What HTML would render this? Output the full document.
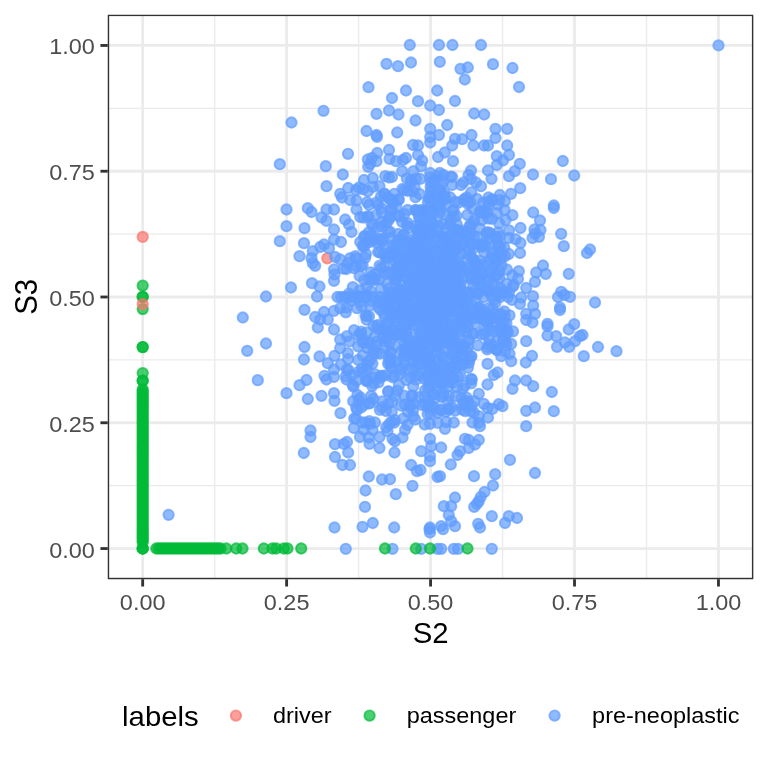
<!DOCTYPE html><html><head><meta charset="utf-8"><title>plot</title><style>html,body{margin:0;padding:0;background:#fff}svg{display:block;will-change:transform;opacity:0.999}text{font-family:"Liberation Sans",sans-serif}</style></head><body>
<svg width="768" height="768" viewBox="0 0 768 768">
<rect width="768" height="768" fill="#fff"/>
<defs><clipPath id="pc"><rect x="107.75" y="14.67" width="645.58" height="564.53"/></clipPath></defs>
<g clip-path="url(#pc)">
<g stroke="#EBEBEB" stroke-width="1.42">
<line x1="107.75" x2="753.33" y1="485.66" y2="485.66"/>
<line x1="214.64" x2="214.64" y1="14.67" y2="579.20"/>
<line x1="107.75" x2="753.33" y1="359.89" y2="359.89"/>
<line x1="358.59" x2="358.59" y1="14.67" y2="579.20"/>
<line x1="107.75" x2="753.33" y1="234.11" y2="234.11"/>
<line x1="502.54" x2="502.54" y1="14.67" y2="579.20"/>
<line x1="107.75" x2="753.33" y1="108.34" y2="108.34"/>
<line x1="646.49" x2="646.49" y1="14.67" y2="579.20"/>
</g>
<g stroke="#EBEBEB" stroke-width="2.845">
<line x1="107.75" x2="753.33" y1="548.55" y2="548.55"/>
<line x1="142.67" x2="142.67" y1="14.67" y2="579.20"/>
<line x1="107.75" x2="753.33" y1="422.77" y2="422.77"/>
<line x1="286.62" x2="286.62" y1="14.67" y2="579.20"/>
<line x1="107.75" x2="753.33" y1="297.00" y2="297.00"/>
<line x1="430.57" x2="430.57" y1="14.67" y2="579.20"/>
<line x1="107.75" x2="753.33" y1="171.22" y2="171.22"/>
<line x1="574.52" x2="574.52" y1="14.67" y2="579.20"/>
<line x1="107.75" x2="753.33" y1="45.45" y2="45.45"/>
<line x1="718.47" x2="718.47" y1="14.67" y2="579.20"/>
</g>
<g fill="#F8766D" stroke="#F8766D" fill-opacity="0.70" stroke-opacity="0.70" stroke-width="1.90">
<circle cx="327.3" cy="258.3" r="5.20"/>
</g>
<g fill="#619CFF" stroke="#619CFF" fill-opacity="0.70" stroke-opacity="0.70" stroke-width="1.90">
<circle cx="448.8" cy="395.9" r="5.20"/>
<circle cx="389.1" cy="309.9" r="5.20"/>
<circle cx="500.1" cy="323.5" r="5.20"/>
<circle cx="447.4" cy="311.6" r="5.20"/>
<circle cx="437.6" cy="321.2" r="5.20"/>
<circle cx="451.4" cy="366.3" r="5.20"/>
<circle cx="448.1" cy="341.7" r="5.20"/>
<circle cx="426.5" cy="231.1" r="5.20"/>
<circle cx="452.9" cy="272.3" r="5.20"/>
<circle cx="420.5" cy="353.5" r="5.20"/>
<circle cx="413.1" cy="324.8" r="5.20"/>
<circle cx="369.4" cy="342.3" r="5.20"/>
<circle cx="401.5" cy="291.4" r="5.20"/>
<circle cx="420.1" cy="211.2" r="5.20"/>
<circle cx="399.6" cy="262.0" r="5.20"/>
<circle cx="468.3" cy="401.3" r="5.20"/>
<circle cx="446.6" cy="280.1" r="5.20"/>
<circle cx="445.4" cy="255.3" r="5.20"/>
<circle cx="498.1" cy="294.8" r="5.20"/>
<circle cx="464.6" cy="385.8" r="5.20"/>
<circle cx="467.4" cy="214.8" r="5.20"/>
<circle cx="418.8" cy="266.8" r="5.20"/>
<circle cx="484.2" cy="311.3" r="5.20"/>
<circle cx="481.4" cy="313.4" r="5.20"/>
<circle cx="408.2" cy="350.3" r="5.20"/>
<circle cx="373.5" cy="352.6" r="5.20"/>
<circle cx="441.2" cy="277.1" r="5.20"/>
<circle cx="434.1" cy="359.1" r="5.20"/>
<circle cx="434.2" cy="393.9" r="5.20"/>
<circle cx="474.7" cy="261.8" r="5.20"/>
<circle cx="459.0" cy="282.2" r="5.20"/>
<circle cx="489.2" cy="307.8" r="5.20"/>
<circle cx="439.9" cy="212.6" r="5.20"/>
<circle cx="446.5" cy="203.8" r="5.20"/>
<circle cx="416.1" cy="225.5" r="5.20"/>
<circle cx="498.7" cy="247.1" r="5.20"/>
<circle cx="487.2" cy="349.3" r="5.20"/>
<circle cx="423.4" cy="280.4" r="5.20"/>
<circle cx="449.0" cy="276.0" r="5.20"/>
<circle cx="452.5" cy="300.7" r="5.20"/>
<circle cx="420.5" cy="359.0" r="5.20"/>
<circle cx="444.5" cy="323.6" r="5.20"/>
<circle cx="454.9" cy="360.2" r="5.20"/>
<circle cx="423.8" cy="325.9" r="5.20"/>
<circle cx="452.1" cy="354.5" r="5.20"/>
<circle cx="349.5" cy="341.4" r="5.20"/>
<circle cx="442.8" cy="262.2" r="5.20"/>
<circle cx="435.6" cy="282.8" r="5.20"/>
<circle cx="414.3" cy="257.1" r="5.20"/>
<circle cx="414.3" cy="251.1" r="5.20"/>
<circle cx="419.3" cy="217.6" r="5.20"/>
<circle cx="457.1" cy="339.2" r="5.20"/>
<circle cx="459.9" cy="317.7" r="5.20"/>
<circle cx="393.5" cy="256.2" r="5.20"/>
<circle cx="446.5" cy="302.5" r="5.20"/>
<circle cx="406.6" cy="251.0" r="5.20"/>
<circle cx="452.2" cy="231.8" r="5.20"/>
<circle cx="473.4" cy="248.5" r="5.20"/>
<circle cx="401.5" cy="309.0" r="5.20"/>
<circle cx="417.1" cy="355.8" r="5.20"/>
<circle cx="502.7" cy="341.1" r="5.20"/>
<circle cx="443.5" cy="359.1" r="5.20"/>
<circle cx="469.1" cy="243.1" r="5.20"/>
<circle cx="391.0" cy="237.8" r="5.20"/>
<circle cx="463.3" cy="347.0" r="5.20"/>
<circle cx="407.8" cy="323.4" r="5.20"/>
<circle cx="406.2" cy="297.0" r="5.20"/>
<circle cx="466.6" cy="197.5" r="5.20"/>
<circle cx="415.9" cy="379.7" r="5.20"/>
<circle cx="487.8" cy="347.2" r="5.20"/>
<circle cx="429.1" cy="198.5" r="5.20"/>
<circle cx="436.0" cy="325.1" r="5.20"/>
<circle cx="416.9" cy="344.2" r="5.20"/>
<circle cx="378.4" cy="329.3" r="5.20"/>
<circle cx="427.9" cy="379.8" r="5.20"/>
<circle cx="407.1" cy="258.1" r="5.20"/>
<circle cx="391.9" cy="210.7" r="5.20"/>
<circle cx="487.5" cy="232.2" r="5.20"/>
<circle cx="482.9" cy="245.4" r="5.20"/>
<circle cx="453.0" cy="342.1" r="5.20"/>
<circle cx="383.5" cy="330.4" r="5.20"/>
<circle cx="468.0" cy="326.9" r="5.20"/>
<circle cx="449.3" cy="310.0" r="5.20"/>
<circle cx="451.7" cy="325.0" r="5.20"/>
<circle cx="406.8" cy="225.5" r="5.20"/>
<circle cx="366.6" cy="319.7" r="5.20"/>
<circle cx="452.9" cy="289.7" r="5.20"/>
<circle cx="459.3" cy="365.6" r="5.20"/>
<circle cx="451.6" cy="378.7" r="5.20"/>
<circle cx="413.5" cy="274.4" r="5.20"/>
<circle cx="428.0" cy="374.9" r="5.20"/>
<circle cx="441.6" cy="269.6" r="5.20"/>
<circle cx="421.2" cy="339.7" r="5.20"/>
<circle cx="462.8" cy="388.6" r="5.20"/>
<circle cx="432.2" cy="245.7" r="5.20"/>
<circle cx="480.8" cy="212.5" r="5.20"/>
<circle cx="455.0" cy="324.6" r="5.20"/>
<circle cx="422.0" cy="298.5" r="5.20"/>
<circle cx="397.9" cy="290.5" r="5.20"/>
<circle cx="485.5" cy="321.1" r="5.20"/>
<circle cx="376.7" cy="341.5" r="5.20"/>
<circle cx="479.3" cy="268.1" r="5.20"/>
<circle cx="421.8" cy="227.0" r="5.20"/>
<circle cx="396.9" cy="334.6" r="5.20"/>
<circle cx="410.5" cy="405.2" r="5.20"/>
<circle cx="474.9" cy="290.7" r="5.20"/>
<circle cx="396.9" cy="278.7" r="5.20"/>
<circle cx="426.6" cy="285.6" r="5.20"/>
<circle cx="430.3" cy="339.1" r="5.20"/>
<circle cx="464.4" cy="240.7" r="5.20"/>
<circle cx="506.9" cy="269.6" r="5.20"/>
<circle cx="466.7" cy="231.1" r="5.20"/>
<circle cx="384.9" cy="273.5" r="5.20"/>
<circle cx="480.9" cy="314.3" r="5.20"/>
<circle cx="387.0" cy="339.1" r="5.20"/>
<circle cx="395.1" cy="269.6" r="5.20"/>
<circle cx="419.7" cy="242.1" r="5.20"/>
<circle cx="459.2" cy="351.9" r="5.20"/>
<circle cx="374.8" cy="374.1" r="5.20"/>
<circle cx="392.3" cy="292.9" r="5.20"/>
<circle cx="460.7" cy="284.3" r="5.20"/>
<circle cx="430.6" cy="302.5" r="5.20"/>
<circle cx="421.7" cy="210.0" r="5.20"/>
<circle cx="462.1" cy="295.2" r="5.20"/>
<circle cx="454.0" cy="216.7" r="5.20"/>
<circle cx="419.0" cy="263.4" r="5.20"/>
<circle cx="357.1" cy="410.0" r="5.20"/>
<circle cx="355.4" cy="256.2" r="5.20"/>
<circle cx="428.6" cy="256.1" r="5.20"/>
<circle cx="443.4" cy="395.4" r="5.20"/>
<circle cx="473.0" cy="269.3" r="5.20"/>
<circle cx="438.2" cy="251.0" r="5.20"/>
<circle cx="476.8" cy="198.9" r="5.20"/>
<circle cx="387.4" cy="271.9" r="5.20"/>
<circle cx="430.8" cy="363.5" r="5.20"/>
<circle cx="419.6" cy="225.3" r="5.20"/>
<circle cx="424.6" cy="311.8" r="5.20"/>
<circle cx="411.2" cy="292.5" r="5.20"/>
<circle cx="497.0" cy="349.4" r="5.20"/>
<circle cx="381.0" cy="196.3" r="5.20"/>
<circle cx="423.7" cy="316.7" r="5.20"/>
<circle cx="371.4" cy="235.5" r="5.20"/>
<circle cx="365.6" cy="315.7" r="5.20"/>
<circle cx="478.5" cy="273.4" r="5.20"/>
<circle cx="372.9" cy="187.0" r="5.20"/>
<circle cx="451.7" cy="406.9" r="5.20"/>
<circle cx="419.5" cy="234.6" r="5.20"/>
<circle cx="369.9" cy="305.4" r="5.20"/>
<circle cx="441.6" cy="397.0" r="5.20"/>
<circle cx="406.4" cy="294.3" r="5.20"/>
<circle cx="443.7" cy="223.9" r="5.20"/>
<circle cx="345.7" cy="376.4" r="5.20"/>
<circle cx="451.6" cy="279.8" r="5.20"/>
<circle cx="410.2" cy="345.8" r="5.20"/>
<circle cx="426.8" cy="319.4" r="5.20"/>
<circle cx="424.3" cy="295.9" r="5.20"/>
<circle cx="436.8" cy="352.3" r="5.20"/>
<circle cx="443.0" cy="182.1" r="5.20"/>
<circle cx="424.0" cy="297.4" r="5.20"/>
<circle cx="436.5" cy="277.5" r="5.20"/>
<circle cx="448.0" cy="297.1" r="5.20"/>
<circle cx="498.1" cy="274.7" r="5.20"/>
<circle cx="451.1" cy="330.2" r="5.20"/>
<circle cx="431.3" cy="233.8" r="5.20"/>
<circle cx="348.1" cy="359.1" r="5.20"/>
<circle cx="473.2" cy="209.1" r="5.20"/>
<circle cx="443.2" cy="240.6" r="5.20"/>
<circle cx="428.8" cy="276.4" r="5.20"/>
<circle cx="424.0" cy="211.7" r="5.20"/>
<circle cx="443.1" cy="237.9" r="5.20"/>
<circle cx="492.8" cy="268.3" r="5.20"/>
<circle cx="479.7" cy="245.0" r="5.20"/>
<circle cx="378.1" cy="324.9" r="5.20"/>
<circle cx="373.0" cy="226.4" r="5.20"/>
<circle cx="470.6" cy="279.1" r="5.20"/>
<circle cx="494.4" cy="299.5" r="5.20"/>
<circle cx="425.8" cy="280.3" r="5.20"/>
<circle cx="346.4" cy="269.0" r="5.20"/>
<circle cx="467.8" cy="304.8" r="5.20"/>
<circle cx="424.8" cy="379.2" r="5.20"/>
<circle cx="384.9" cy="194.0" r="5.20"/>
<circle cx="452.2" cy="334.0" r="5.20"/>
<circle cx="471.7" cy="379.7" r="5.20"/>
<circle cx="408.3" cy="315.8" r="5.20"/>
<circle cx="402.9" cy="270.9" r="5.20"/>
<circle cx="425.8" cy="273.9" r="5.20"/>
<circle cx="497.8" cy="204.8" r="5.20"/>
<circle cx="389.9" cy="216.4" r="5.20"/>
<circle cx="446.1" cy="227.8" r="5.20"/>
<circle cx="467.7" cy="347.6" r="5.20"/>
<circle cx="376.6" cy="353.7" r="5.20"/>
<circle cx="435.0" cy="285.5" r="5.20"/>
<circle cx="397.4" cy="390.6" r="5.20"/>
<circle cx="443.1" cy="392.3" r="5.20"/>
<circle cx="416.1" cy="255.5" r="5.20"/>
<circle cx="460.4" cy="331.3" r="5.20"/>
<circle cx="424.8" cy="287.7" r="5.20"/>
<circle cx="425.2" cy="299.0" r="5.20"/>
<circle cx="426.4" cy="300.8" r="5.20"/>
<circle cx="392.0" cy="368.1" r="5.20"/>
<circle cx="496.8" cy="213.1" r="5.20"/>
<circle cx="440.6" cy="382.5" r="5.20"/>
<circle cx="410.4" cy="377.4" r="5.20"/>
<circle cx="362.0" cy="368.7" r="5.20"/>
<circle cx="411.4" cy="181.6" r="5.20"/>
<circle cx="443.2" cy="337.0" r="5.20"/>
<circle cx="422.1" cy="316.8" r="5.20"/>
<circle cx="433.9" cy="334.0" r="5.20"/>
<circle cx="360.7" cy="333.8" r="5.20"/>
<circle cx="372.4" cy="363.6" r="5.20"/>
<circle cx="383.9" cy="313.6" r="5.20"/>
<circle cx="415.9" cy="375.9" r="5.20"/>
<circle cx="353.4" cy="386.7" r="5.20"/>
<circle cx="469.0" cy="362.7" r="5.20"/>
<circle cx="461.4" cy="398.0" r="5.20"/>
<circle cx="449.2" cy="295.1" r="5.20"/>
<circle cx="380.5" cy="309.9" r="5.20"/>
<circle cx="425.5" cy="211.2" r="5.20"/>
<circle cx="440.2" cy="409.5" r="5.20"/>
<circle cx="466.5" cy="332.5" r="5.20"/>
<circle cx="426.4" cy="293.8" r="5.20"/>
<circle cx="468.9" cy="339.9" r="5.20"/>
<circle cx="416.8" cy="291.3" r="5.20"/>
<circle cx="436.9" cy="347.1" r="5.20"/>
<circle cx="458.0" cy="246.6" r="5.20"/>
<circle cx="464.2" cy="200.3" r="5.20"/>
<circle cx="470.8" cy="356.6" r="5.20"/>
<circle cx="414.0" cy="286.3" r="5.20"/>
<circle cx="418.8" cy="215.2" r="5.20"/>
<circle cx="457.4" cy="283.7" r="5.20"/>
<circle cx="403.8" cy="314.2" r="5.20"/>
<circle cx="443.4" cy="297.8" r="5.20"/>
<circle cx="450.3" cy="286.2" r="5.20"/>
<circle cx="452.7" cy="382.7" r="5.20"/>
<circle cx="488.1" cy="201.7" r="5.20"/>
<circle cx="487.5" cy="211.9" r="5.20"/>
<circle cx="419.6" cy="194.0" r="5.20"/>
<circle cx="456.9" cy="278.0" r="5.20"/>
<circle cx="468.2" cy="235.5" r="5.20"/>
<circle cx="418.7" cy="397.2" r="5.20"/>
<circle cx="440.2" cy="267.7" r="5.20"/>
<circle cx="404.3" cy="285.2" r="5.20"/>
<circle cx="429.0" cy="271.8" r="5.20"/>
<circle cx="488.1" cy="315.4" r="5.20"/>
<circle cx="504.5" cy="209.8" r="5.20"/>
<circle cx="386.4" cy="307.0" r="5.20"/>
<circle cx="403.4" cy="258.8" r="5.20"/>
<circle cx="422.3" cy="405.1" r="5.20"/>
<circle cx="428.4" cy="305.2" r="5.20"/>
<circle cx="466.6" cy="350.5" r="5.20"/>
<circle cx="443.0" cy="303.6" r="5.20"/>
<circle cx="418.1" cy="375.0" r="5.20"/>
<circle cx="471.0" cy="314.6" r="5.20"/>
<circle cx="479.5" cy="306.9" r="5.20"/>
<circle cx="505.5" cy="335.8" r="5.20"/>
<circle cx="393.7" cy="327.0" r="5.20"/>
<circle cx="431.2" cy="366.5" r="5.20"/>
<circle cx="494.8" cy="331.1" r="5.20"/>
<circle cx="477.4" cy="280.9" r="5.20"/>
<circle cx="486.5" cy="288.8" r="5.20"/>
<circle cx="393.2" cy="200.5" r="5.20"/>
<circle cx="481.9" cy="314.2" r="5.20"/>
<circle cx="399.2" cy="274.5" r="5.20"/>
<circle cx="364.2" cy="404.7" r="5.20"/>
<circle cx="461.9" cy="296.5" r="5.20"/>
<circle cx="407.5" cy="272.8" r="5.20"/>
<circle cx="401.7" cy="271.3" r="5.20"/>
<circle cx="458.0" cy="376.8" r="5.20"/>
<circle cx="407.4" cy="222.9" r="5.20"/>
<circle cx="488.1" cy="276.4" r="5.20"/>
<circle cx="401.0" cy="329.0" r="5.20"/>
<circle cx="421.2" cy="312.9" r="5.20"/>
<circle cx="467.2" cy="258.5" r="5.20"/>
<circle cx="387.8" cy="230.8" r="5.20"/>
<circle cx="420.3" cy="252.3" r="5.20"/>
<circle cx="468.4" cy="316.0" r="5.20"/>
<circle cx="414.0" cy="238.8" r="5.20"/>
<circle cx="419.1" cy="358.9" r="5.20"/>
<circle cx="408.1" cy="251.7" r="5.20"/>
<circle cx="349.1" cy="293.6" r="5.20"/>
<circle cx="406.3" cy="333.6" r="5.20"/>
<circle cx="413.6" cy="279.6" r="5.20"/>
<circle cx="465.1" cy="411.1" r="5.20"/>
<circle cx="400.9" cy="255.9" r="5.20"/>
<circle cx="354.2" cy="418.5" r="5.20"/>
<circle cx="484.1" cy="252.0" r="5.20"/>
<circle cx="377.9" cy="227.1" r="5.20"/>
<circle cx="378.6" cy="300.9" r="5.20"/>
<circle cx="404.2" cy="190.2" r="5.20"/>
<circle cx="464.7" cy="405.1" r="5.20"/>
<circle cx="395.0" cy="320.7" r="5.20"/>
<circle cx="483.2" cy="202.7" r="5.20"/>
<circle cx="421.2" cy="266.0" r="5.20"/>
<circle cx="446.4" cy="268.3" r="5.20"/>
<circle cx="398.8" cy="215.6" r="5.20"/>
<circle cx="445.9" cy="368.4" r="5.20"/>
<circle cx="443.2" cy="274.2" r="5.20"/>
<circle cx="454.6" cy="267.0" r="5.20"/>
<circle cx="500.5" cy="331.4" r="5.20"/>
<circle cx="390.0" cy="199.2" r="5.20"/>
<circle cx="458.1" cy="310.7" r="5.20"/>
<circle cx="441.1" cy="354.5" r="5.20"/>
<circle cx="436.4" cy="345.7" r="5.20"/>
<circle cx="418.4" cy="249.1" r="5.20"/>
<circle cx="467.9" cy="203.9" r="5.20"/>
<circle cx="446.0" cy="411.9" r="5.20"/>
<circle cx="433.3" cy="279.8" r="5.20"/>
<circle cx="399.8" cy="332.6" r="5.20"/>
<circle cx="422.7" cy="240.1" r="5.20"/>
<circle cx="460.9" cy="292.2" r="5.20"/>
<circle cx="429.4" cy="270.7" r="5.20"/>
<circle cx="413.0" cy="410.3" r="5.20"/>
<circle cx="346.9" cy="336.1" r="5.20"/>
<circle cx="395.0" cy="298.1" r="5.20"/>
<circle cx="419.4" cy="289.7" r="5.20"/>
<circle cx="415.5" cy="197.2" r="5.20"/>
<circle cx="364.7" cy="343.2" r="5.20"/>
<circle cx="484.5" cy="330.5" r="5.20"/>
<circle cx="410.5" cy="349.8" r="5.20"/>
<circle cx="412.9" cy="244.0" r="5.20"/>
<circle cx="454.6" cy="260.1" r="5.20"/>
<circle cx="405.0" cy="351.0" r="5.20"/>
<circle cx="366.0" cy="254.1" r="5.20"/>
<circle cx="443.5" cy="317.4" r="5.20"/>
<circle cx="404.6" cy="343.8" r="5.20"/>
<circle cx="441.6" cy="295.3" r="5.20"/>
<circle cx="432.3" cy="225.6" r="5.20"/>
<circle cx="509.5" cy="315.3" r="5.20"/>
<circle cx="434.7" cy="290.9" r="5.20"/>
<circle cx="460.3" cy="324.3" r="5.20"/>
<circle cx="410.2" cy="316.2" r="5.20"/>
<circle cx="450.5" cy="176.6" r="5.20"/>
<circle cx="412.5" cy="191.5" r="5.20"/>
<circle cx="447.4" cy="333.0" r="5.20"/>
<circle cx="386.3" cy="325.1" r="5.20"/>
<circle cx="432.6" cy="394.6" r="5.20"/>
<circle cx="429.8" cy="330.8" r="5.20"/>
<circle cx="448.1" cy="401.8" r="5.20"/>
<circle cx="375.1" cy="274.1" r="5.20"/>
<circle cx="462.9" cy="302.2" r="5.20"/>
<circle cx="455.2" cy="294.4" r="5.20"/>
<circle cx="436.4" cy="285.8" r="5.20"/>
<circle cx="458.6" cy="230.6" r="5.20"/>
<circle cx="504.2" cy="247.5" r="5.20"/>
<circle cx="367.5" cy="348.1" r="5.20"/>
<circle cx="456.4" cy="266.5" r="5.20"/>
<circle cx="505.8" cy="342.1" r="5.20"/>
<circle cx="372.7" cy="240.7" r="5.20"/>
<circle cx="452.2" cy="261.2" r="5.20"/>
<circle cx="373.4" cy="398.8" r="5.20"/>
<circle cx="493.6" cy="253.4" r="5.20"/>
<circle cx="394.9" cy="314.1" r="5.20"/>
<circle cx="463.5" cy="299.8" r="5.20"/>
<circle cx="431.0" cy="262.9" r="5.20"/>
<circle cx="469.3" cy="359.3" r="5.20"/>
<circle cx="433.0" cy="180.9" r="5.20"/>
<circle cx="412.0" cy="287.3" r="5.20"/>
<circle cx="398.4" cy="273.0" r="5.20"/>
<circle cx="461.5" cy="244.2" r="5.20"/>
<circle cx="438.1" cy="236.3" r="5.20"/>
<circle cx="461.8" cy="357.5" r="5.20"/>
<circle cx="442.0" cy="291.0" r="5.20"/>
<circle cx="501.0" cy="323.3" r="5.20"/>
<circle cx="437.6" cy="232.0" r="5.20"/>
<circle cx="456.8" cy="360.7" r="5.20"/>
<circle cx="449.1" cy="237.1" r="5.20"/>
<circle cx="454.5" cy="302.8" r="5.20"/>
<circle cx="468.3" cy="292.8" r="5.20"/>
<circle cx="346.5" cy="307.6" r="5.20"/>
<circle cx="437.3" cy="176.0" r="5.20"/>
<circle cx="442.5" cy="357.4" r="5.20"/>
<circle cx="390.3" cy="231.9" r="5.20"/>
<circle cx="473.8" cy="236.4" r="5.20"/>
<circle cx="432.5" cy="265.7" r="5.20"/>
<circle cx="474.6" cy="317.6" r="5.20"/>
<circle cx="505.4" cy="329.5" r="5.20"/>
<circle cx="394.7" cy="330.9" r="5.20"/>
<circle cx="480.9" cy="318.9" r="5.20"/>
<circle cx="493.0" cy="257.8" r="5.20"/>
<circle cx="391.0" cy="352.7" r="5.20"/>
<circle cx="502.0" cy="333.1" r="5.20"/>
<circle cx="450.1" cy="197.3" r="5.20"/>
<circle cx="469.5" cy="249.4" r="5.20"/>
<circle cx="471.2" cy="383.4" r="5.20"/>
<circle cx="461.8" cy="309.3" r="5.20"/>
<circle cx="471.4" cy="356.2" r="5.20"/>
<circle cx="429.8" cy="364.5" r="5.20"/>
<circle cx="378.4" cy="307.3" r="5.20"/>
<circle cx="508.8" cy="254.0" r="5.20"/>
<circle cx="418.3" cy="274.8" r="5.20"/>
<circle cx="471.2" cy="378.8" r="5.20"/>
<circle cx="464.9" cy="313.7" r="5.20"/>
<circle cx="459.2" cy="270.5" r="5.20"/>
<circle cx="429.6" cy="213.5" r="5.20"/>
<circle cx="424.1" cy="227.7" r="5.20"/>
<circle cx="432.1" cy="340.4" r="5.20"/>
<circle cx="379.4" cy="279.5" r="5.20"/>
<circle cx="479.6" cy="260.9" r="5.20"/>
<circle cx="413.3" cy="416.5" r="5.20"/>
<circle cx="451.9" cy="255.4" r="5.20"/>
<circle cx="449.6" cy="306.6" r="5.20"/>
<circle cx="405.2" cy="348.4" r="5.20"/>
<circle cx="447.0" cy="288.9" r="5.20"/>
<circle cx="427.6" cy="414.0" r="5.20"/>
<circle cx="368.6" cy="242.3" r="5.20"/>
<circle cx="440.9" cy="274.3" r="5.20"/>
<circle cx="442.9" cy="236.3" r="5.20"/>
<circle cx="358.2" cy="360.0" r="5.20"/>
<circle cx="406.3" cy="380.0" r="5.20"/>
<circle cx="421.8" cy="319.5" r="5.20"/>
<circle cx="434.6" cy="328.2" r="5.20"/>
<circle cx="460.8" cy="267.2" r="5.20"/>
<circle cx="435.1" cy="270.1" r="5.20"/>
<circle cx="426.3" cy="361.4" r="5.20"/>
<circle cx="419.7" cy="263.4" r="5.20"/>
<circle cx="447.8" cy="270.1" r="5.20"/>
<circle cx="422.4" cy="273.3" r="5.20"/>
<circle cx="421.9" cy="276.9" r="5.20"/>
<circle cx="428.7" cy="227.2" r="5.20"/>
<circle cx="447.0" cy="337.8" r="5.20"/>
<circle cx="430.2" cy="299.7" r="5.20"/>
<circle cx="492.5" cy="308.7" r="5.20"/>
<circle cx="381.5" cy="208.2" r="5.20"/>
<circle cx="397.3" cy="272.5" r="5.20"/>
<circle cx="481.1" cy="281.1" r="5.20"/>
<circle cx="396.9" cy="244.2" r="5.20"/>
<circle cx="412.0" cy="347.5" r="5.20"/>
<circle cx="442.5" cy="340.3" r="5.20"/>
<circle cx="438.2" cy="412.8" r="5.20"/>
<circle cx="455.7" cy="289.8" r="5.20"/>
<circle cx="407.6" cy="347.6" r="5.20"/>
<circle cx="466.2" cy="323.9" r="5.20"/>
<circle cx="461.8" cy="253.7" r="5.20"/>
<circle cx="428.6" cy="296.6" r="5.20"/>
<circle cx="506.4" cy="323.4" r="5.20"/>
<circle cx="444.5" cy="249.5" r="5.20"/>
<circle cx="454.9" cy="328.0" r="5.20"/>
<circle cx="398.3" cy="272.7" r="5.20"/>
<circle cx="444.8" cy="324.2" r="5.20"/>
<circle cx="422.4" cy="264.2" r="5.20"/>
<circle cx="415.3" cy="249.6" r="5.20"/>
<circle cx="410.0" cy="245.6" r="5.20"/>
<circle cx="451.7" cy="255.1" r="5.20"/>
<circle cx="423.3" cy="349.8" r="5.20"/>
<circle cx="402.8" cy="292.0" r="5.20"/>
<circle cx="421.7" cy="328.2" r="5.20"/>
<circle cx="500.8" cy="288.4" r="5.20"/>
<circle cx="441.3" cy="312.1" r="5.20"/>
<circle cx="476.3" cy="264.2" r="5.20"/>
<circle cx="444.1" cy="296.8" r="5.20"/>
<circle cx="435.6" cy="268.4" r="5.20"/>
<circle cx="409.5" cy="245.4" r="5.20"/>
<circle cx="406.9" cy="242.6" r="5.20"/>
<circle cx="471.7" cy="406.1" r="5.20"/>
<circle cx="366.6" cy="381.1" r="5.20"/>
<circle cx="408.0" cy="313.3" r="5.20"/>
<circle cx="417.7" cy="306.5" r="5.20"/>
<circle cx="400.5" cy="266.5" r="5.20"/>
<circle cx="453.6" cy="355.3" r="5.20"/>
<circle cx="426.8" cy="326.9" r="5.20"/>
<circle cx="505.4" cy="292.9" r="5.20"/>
<circle cx="382.8" cy="337.9" r="5.20"/>
<circle cx="455.2" cy="368.0" r="5.20"/>
<circle cx="465.3" cy="240.8" r="5.20"/>
<circle cx="384.9" cy="317.0" r="5.20"/>
<circle cx="467.6" cy="277.3" r="5.20"/>
<circle cx="425.2" cy="404.3" r="5.20"/>
<circle cx="392.3" cy="401.7" r="5.20"/>
<circle cx="496.5" cy="349.7" r="5.20"/>
<circle cx="404.1" cy="395.6" r="5.20"/>
<circle cx="482.1" cy="274.8" r="5.20"/>
<circle cx="385.5" cy="256.7" r="5.20"/>
<circle cx="442.4" cy="291.2" r="5.20"/>
<circle cx="444.0" cy="255.6" r="5.20"/>
<circle cx="420.2" cy="343.6" r="5.20"/>
<circle cx="500.0" cy="236.3" r="5.20"/>
<circle cx="488.7" cy="204.5" r="5.20"/>
<circle cx="455.3" cy="201.7" r="5.20"/>
<circle cx="419.0" cy="304.3" r="5.20"/>
<circle cx="419.8" cy="351.1" r="5.20"/>
<circle cx="448.9" cy="247.4" r="5.20"/>
<circle cx="380.7" cy="376.0" r="5.20"/>
<circle cx="462.3" cy="409.5" r="5.20"/>
<circle cx="368.8" cy="403.5" r="5.20"/>
<circle cx="482.3" cy="243.8" r="5.20"/>
<circle cx="437.6" cy="260.2" r="5.20"/>
<circle cx="401.7" cy="350.4" r="5.20"/>
<circle cx="422.2" cy="214.6" r="5.20"/>
<circle cx="394.9" cy="420.0" r="5.20"/>
<circle cx="429.6" cy="323.7" r="5.20"/>
<circle cx="451.4" cy="333.3" r="5.20"/>
<circle cx="404.8" cy="297.2" r="5.20"/>
<circle cx="455.1" cy="410.6" r="5.20"/>
<circle cx="431.3" cy="254.4" r="5.20"/>
<circle cx="489.0" cy="328.4" r="5.20"/>
<circle cx="492.2" cy="283.8" r="5.20"/>
<circle cx="399.5" cy="216.6" r="5.20"/>
<circle cx="415.2" cy="419.6" r="5.20"/>
<circle cx="434.6" cy="199.0" r="5.20"/>
<circle cx="473.6" cy="318.4" r="5.20"/>
<circle cx="427.3" cy="224.8" r="5.20"/>
<circle cx="448.2" cy="408.7" r="5.20"/>
<circle cx="462.0" cy="324.8" r="5.20"/>
<circle cx="402.5" cy="239.3" r="5.20"/>
<circle cx="459.1" cy="348.8" r="5.20"/>
<circle cx="508.9" cy="292.6" r="5.20"/>
<circle cx="453.6" cy="210.1" r="5.20"/>
<circle cx="435.0" cy="179.7" r="5.20"/>
<circle cx="390.2" cy="292.5" r="5.20"/>
<circle cx="444.5" cy="254.3" r="5.20"/>
<circle cx="364.6" cy="235.8" r="5.20"/>
<circle cx="385.8" cy="257.1" r="5.20"/>
<circle cx="366.5" cy="286.6" r="5.20"/>
<circle cx="343.4" cy="268.7" r="5.20"/>
<circle cx="358.8" cy="371.6" r="5.20"/>
<circle cx="382.3" cy="226.3" r="5.20"/>
<circle cx="423.4" cy="267.7" r="5.20"/>
<circle cx="432.7" cy="316.0" r="5.20"/>
<circle cx="425.2" cy="341.1" r="5.20"/>
<circle cx="405.9" cy="301.5" r="5.20"/>
<circle cx="384.0" cy="328.5" r="5.20"/>
<circle cx="504.3" cy="311.4" r="5.20"/>
<circle cx="416.9" cy="229.6" r="5.20"/>
<circle cx="433.8" cy="368.1" r="5.20"/>
<circle cx="424.3" cy="396.4" r="5.20"/>
<circle cx="461.5" cy="320.3" r="5.20"/>
<circle cx="430.8" cy="293.8" r="5.20"/>
<circle cx="463.5" cy="230.6" r="5.20"/>
<circle cx="414.1" cy="243.7" r="5.20"/>
<circle cx="410.8" cy="180.2" r="5.20"/>
<circle cx="379.6" cy="265.6" r="5.20"/>
<circle cx="394.7" cy="261.2" r="5.20"/>
<circle cx="402.1" cy="333.2" r="5.20"/>
<circle cx="428.3" cy="387.9" r="5.20"/>
<circle cx="380.2" cy="353.5" r="5.20"/>
<circle cx="415.8" cy="334.6" r="5.20"/>
<circle cx="452.3" cy="293.2" r="5.20"/>
<circle cx="402.2" cy="328.7" r="5.20"/>
<circle cx="436.3" cy="247.8" r="5.20"/>
<circle cx="385.4" cy="341.9" r="5.20"/>
<circle cx="429.7" cy="362.2" r="5.20"/>
<circle cx="424.1" cy="230.9" r="5.20"/>
<circle cx="444.4" cy="316.6" r="5.20"/>
<circle cx="431.0" cy="264.1" r="5.20"/>
<circle cx="410.2" cy="319.1" r="5.20"/>
<circle cx="485.2" cy="211.7" r="5.20"/>
<circle cx="364.2" cy="246.6" r="5.20"/>
<circle cx="435.5" cy="324.4" r="5.20"/>
<circle cx="367.3" cy="216.6" r="5.20"/>
<circle cx="419.2" cy="310.7" r="5.20"/>
<circle cx="440.1" cy="251.0" r="5.20"/>
<circle cx="395.6" cy="346.2" r="5.20"/>
<circle cx="469.5" cy="269.9" r="5.20"/>
<circle cx="449.0" cy="409.3" r="5.20"/>
<circle cx="420.1" cy="256.0" r="5.20"/>
<circle cx="406.7" cy="299.0" r="5.20"/>
<circle cx="396.4" cy="206.7" r="5.20"/>
<circle cx="456.5" cy="230.1" r="5.20"/>
<circle cx="415.9" cy="275.1" r="5.20"/>
<circle cx="373.6" cy="326.0" r="5.20"/>
<circle cx="397.5" cy="266.7" r="5.20"/>
<circle cx="470.6" cy="233.3" r="5.20"/>
<circle cx="388.7" cy="288.4" r="5.20"/>
<circle cx="428.1" cy="407.5" r="5.20"/>
<circle cx="438.5" cy="268.1" r="5.20"/>
<circle cx="437.9" cy="342.3" r="5.20"/>
<circle cx="408.0" cy="369.1" r="5.20"/>
<circle cx="456.8" cy="387.3" r="5.20"/>
<circle cx="427.1" cy="365.9" r="5.20"/>
<circle cx="369.4" cy="279.7" r="5.20"/>
<circle cx="399.4" cy="254.0" r="5.20"/>
<circle cx="441.6" cy="305.9" r="5.20"/>
<circle cx="423.9" cy="298.9" r="5.20"/>
<circle cx="365.2" cy="257.8" r="5.20"/>
<circle cx="445.1" cy="296.6" r="5.20"/>
<circle cx="426.0" cy="299.7" r="5.20"/>
<circle cx="395.9" cy="251.9" r="5.20"/>
<circle cx="404.3" cy="264.7" r="5.20"/>
<circle cx="461.2" cy="272.9" r="5.20"/>
<circle cx="424.0" cy="282.8" r="5.20"/>
<circle cx="411.6" cy="396.1" r="5.20"/>
<circle cx="406.1" cy="259.8" r="5.20"/>
<circle cx="400.9" cy="333.9" r="5.20"/>
<circle cx="443.9" cy="238.0" r="5.20"/>
<circle cx="429.3" cy="306.6" r="5.20"/>
<circle cx="390.7" cy="366.3" r="5.20"/>
<circle cx="350.4" cy="301.2" r="5.20"/>
<circle cx="446.8" cy="259.7" r="5.20"/>
<circle cx="346.9" cy="369.4" r="5.20"/>
<circle cx="425.0" cy="390.4" r="5.20"/>
<circle cx="489.6" cy="238.1" r="5.20"/>
<circle cx="446.9" cy="287.9" r="5.20"/>
<circle cx="371.7" cy="223.5" r="5.20"/>
<circle cx="395.3" cy="256.6" r="5.20"/>
<circle cx="477.9" cy="345.3" r="5.20"/>
<circle cx="477.6" cy="236.6" r="5.20"/>
<circle cx="440.4" cy="374.4" r="5.20"/>
<circle cx="491.9" cy="253.6" r="5.20"/>
<circle cx="356.3" cy="258.4" r="5.20"/>
<circle cx="470.7" cy="411.1" r="5.20"/>
<circle cx="402.4" cy="236.3" r="5.20"/>
<circle cx="403.9" cy="234.5" r="5.20"/>
<circle cx="449.9" cy="310.5" r="5.20"/>
<circle cx="436.3" cy="195.0" r="5.20"/>
<circle cx="391.8" cy="411.5" r="5.20"/>
<circle cx="356.0" cy="266.1" r="5.20"/>
<circle cx="468.8" cy="202.2" r="5.20"/>
<circle cx="467.0" cy="316.7" r="5.20"/>
<circle cx="481.1" cy="318.1" r="5.20"/>
<circle cx="427.9" cy="202.0" r="5.20"/>
<circle cx="381.3" cy="267.9" r="5.20"/>
<circle cx="390.3" cy="209.5" r="5.20"/>
<circle cx="392.7" cy="245.4" r="5.20"/>
<circle cx="403.9" cy="356.4" r="5.20"/>
<circle cx="456.6" cy="247.0" r="5.20"/>
<circle cx="485.0" cy="213.3" r="5.20"/>
<circle cx="362.8" cy="189.2" r="5.20"/>
<circle cx="424.8" cy="267.7" r="5.20"/>
<circle cx="370.7" cy="291.3" r="5.20"/>
<circle cx="451.9" cy="366.2" r="5.20"/>
<circle cx="499.4" cy="199.8" r="5.20"/>
<circle cx="370.6" cy="272.3" r="5.20"/>
<circle cx="422.5" cy="296.5" r="5.20"/>
<circle cx="363.3" cy="339.4" r="5.20"/>
<circle cx="407.0" cy="287.5" r="5.20"/>
<circle cx="443.0" cy="375.0" r="5.20"/>
<circle cx="386.3" cy="331.3" r="5.20"/>
<circle cx="417.7" cy="238.5" r="5.20"/>
<circle cx="488.6" cy="261.4" r="5.20"/>
<circle cx="410.6" cy="323.9" r="5.20"/>
<circle cx="446.9" cy="286.1" r="5.20"/>
<circle cx="397.1" cy="335.7" r="5.20"/>
<circle cx="368.6" cy="216.3" r="5.20"/>
<circle cx="404.8" cy="404.3" r="5.20"/>
<circle cx="419.2" cy="231.2" r="5.20"/>
<circle cx="448.0" cy="386.6" r="5.20"/>
<circle cx="362.7" cy="246.1" r="5.20"/>
<circle cx="428.6" cy="235.1" r="5.20"/>
<circle cx="416.5" cy="255.8" r="5.20"/>
<circle cx="429.6" cy="358.5" r="5.20"/>
<circle cx="386.5" cy="222.6" r="5.20"/>
<circle cx="373.7" cy="383.3" r="5.20"/>
<circle cx="482.5" cy="264.4" r="5.20"/>
<circle cx="489.3" cy="243.2" r="5.20"/>
<circle cx="367.1" cy="365.4" r="5.20"/>
<circle cx="358.1" cy="346.3" r="5.20"/>
<circle cx="446.7" cy="310.7" r="5.20"/>
<circle cx="398.7" cy="199.5" r="5.20"/>
<circle cx="440.5" cy="342.8" r="5.20"/>
<circle cx="362.8" cy="355.8" r="5.20"/>
<circle cx="382.3" cy="375.8" r="5.20"/>
<circle cx="373.2" cy="349.8" r="5.20"/>
<circle cx="449.7" cy="241.7" r="5.20"/>
<circle cx="404.8" cy="354.0" r="5.20"/>
<circle cx="505.0" cy="256.1" r="5.20"/>
<circle cx="400.1" cy="310.2" r="5.20"/>
<circle cx="432.3" cy="268.7" r="5.20"/>
<circle cx="385.1" cy="347.8" r="5.20"/>
<circle cx="405.6" cy="324.6" r="5.20"/>
<circle cx="377.9" cy="204.6" r="5.20"/>
<circle cx="430.8" cy="233.2" r="5.20"/>
<circle cx="388.4" cy="391.1" r="5.20"/>
<circle cx="400.4" cy="300.2" r="5.20"/>
<circle cx="474.0" cy="272.1" r="5.20"/>
<circle cx="440.7" cy="369.8" r="5.20"/>
<circle cx="387.8" cy="334.3" r="5.20"/>
<circle cx="428.8" cy="355.0" r="5.20"/>
<circle cx="367.4" cy="380.3" r="5.20"/>
<circle cx="460.5" cy="348.8" r="5.20"/>
<circle cx="401.9" cy="299.7" r="5.20"/>
<circle cx="415.6" cy="210.0" r="5.20"/>
<circle cx="376.7" cy="326.6" r="5.20"/>
<circle cx="462.2" cy="270.2" r="5.20"/>
<circle cx="374.4" cy="337.1" r="5.20"/>
<circle cx="370.0" cy="237.5" r="5.20"/>
<circle cx="425.6" cy="279.5" r="5.20"/>
<circle cx="444.6" cy="193.1" r="5.20"/>
<circle cx="409.1" cy="280.9" r="5.20"/>
<circle cx="429.8" cy="294.1" r="5.20"/>
<circle cx="418.8" cy="340.7" r="5.20"/>
<circle cx="467.9" cy="367.7" r="5.20"/>
<circle cx="494.9" cy="257.8" r="5.20"/>
<circle cx="450.6" cy="238.1" r="5.20"/>
<circle cx="445.9" cy="349.5" r="5.20"/>
<circle cx="430.0" cy="252.1" r="5.20"/>
<circle cx="435.6" cy="326.1" r="5.20"/>
<circle cx="433.1" cy="313.8" r="5.20"/>
<circle cx="496.9" cy="239.0" r="5.20"/>
<circle cx="441.7" cy="199.8" r="5.20"/>
<circle cx="434.1" cy="251.0" r="5.20"/>
<circle cx="431.1" cy="331.8" r="5.20"/>
<circle cx="455.9" cy="239.9" r="5.20"/>
<circle cx="390.0" cy="298.8" r="5.20"/>
<circle cx="345.8" cy="312.3" r="5.20"/>
<circle cx="434.8" cy="369.5" r="5.20"/>
<circle cx="500.4" cy="246.4" r="5.20"/>
<circle cx="417.2" cy="312.7" r="5.20"/>
<circle cx="449.3" cy="280.7" r="5.20"/>
<circle cx="368.6" cy="232.5" r="5.20"/>
<circle cx="456.8" cy="224.4" r="5.20"/>
<circle cx="402.1" cy="221.9" r="5.20"/>
<circle cx="426.4" cy="302.1" r="5.20"/>
<circle cx="358.8" cy="295.8" r="5.20"/>
<circle cx="415.4" cy="308.0" r="5.20"/>
<circle cx="442.0" cy="337.3" r="5.20"/>
<circle cx="487.8" cy="291.3" r="5.20"/>
<circle cx="362.6" cy="264.9" r="5.20"/>
<circle cx="451.1" cy="263.2" r="5.20"/>
<circle cx="434.8" cy="278.8" r="5.20"/>
<circle cx="436.8" cy="346.4" r="5.20"/>
<circle cx="441.4" cy="244.1" r="5.20"/>
<circle cx="395.4" cy="248.7" r="5.20"/>
<circle cx="448.5" cy="303.7" r="5.20"/>
<circle cx="407.1" cy="272.9" r="5.20"/>
<circle cx="362.4" cy="342.1" r="5.20"/>
<circle cx="499.2" cy="223.4" r="5.20"/>
<circle cx="480.9" cy="210.6" r="5.20"/>
<circle cx="398.3" cy="290.9" r="5.20"/>
<circle cx="446.0" cy="296.1" r="5.20"/>
<circle cx="431.5" cy="190.8" r="5.20"/>
<circle cx="404.3" cy="213.9" r="5.20"/>
<circle cx="460.4" cy="376.1" r="5.20"/>
<circle cx="441.5" cy="184.6" r="5.20"/>
<circle cx="477.8" cy="292.6" r="5.20"/>
<circle cx="375.6" cy="345.6" r="5.20"/>
<circle cx="485.4" cy="246.0" r="5.20"/>
<circle cx="489.7" cy="319.7" r="5.20"/>
<circle cx="390.0" cy="342.5" r="5.20"/>
<circle cx="422.2" cy="352.5" r="5.20"/>
<circle cx="471.3" cy="192.3" r="5.20"/>
<circle cx="413.2" cy="355.2" r="5.20"/>
<circle cx="431.7" cy="286.0" r="5.20"/>
<circle cx="430.6" cy="366.0" r="5.20"/>
<circle cx="366.9" cy="369.1" r="5.20"/>
<circle cx="397.4" cy="360.8" r="5.20"/>
<circle cx="434.7" cy="297.1" r="5.20"/>
<circle cx="399.8" cy="289.2" r="5.20"/>
<circle cx="392.6" cy="315.7" r="5.20"/>
<circle cx="501.5" cy="265.4" r="5.20"/>
<circle cx="428.1" cy="401.2" r="5.20"/>
<circle cx="452.0" cy="292.4" r="5.20"/>
<circle cx="369.0" cy="316.2" r="5.20"/>
<circle cx="352.8" cy="287.2" r="5.20"/>
<circle cx="443.1" cy="199.2" r="5.20"/>
<circle cx="360.3" cy="397.4" r="5.20"/>
<circle cx="419.9" cy="277.8" r="5.20"/>
<circle cx="462.5" cy="328.5" r="5.20"/>
<circle cx="441.1" cy="410.1" r="5.20"/>
<circle cx="417.9" cy="309.6" r="5.20"/>
<circle cx="472.8" cy="333.8" r="5.20"/>
<circle cx="433.0" cy="235.6" r="5.20"/>
<circle cx="448.5" cy="341.1" r="5.20"/>
<circle cx="461.1" cy="364.7" r="5.20"/>
<circle cx="376.8" cy="243.0" r="5.20"/>
<circle cx="428.7" cy="330.2" r="5.20"/>
<circle cx="386.3" cy="337.5" r="5.20"/>
<circle cx="415.8" cy="366.2" r="5.20"/>
<circle cx="400.7" cy="242.2" r="5.20"/>
<circle cx="388.2" cy="220.6" r="5.20"/>
<circle cx="424.7" cy="424.5" r="5.20"/>
<circle cx="493.5" cy="313.5" r="5.20"/>
<circle cx="390.5" cy="328.9" r="5.20"/>
<circle cx="399.9" cy="267.0" r="5.20"/>
<circle cx="381.9" cy="241.8" r="5.20"/>
<circle cx="407.1" cy="350.9" r="5.20"/>
<circle cx="494.3" cy="284.2" r="5.20"/>
<circle cx="363.4" cy="217.6" r="5.20"/>
<circle cx="415.2" cy="269.9" r="5.20"/>
<circle cx="428.5" cy="234.9" r="5.20"/>
<circle cx="451.5" cy="265.4" r="5.20"/>
<circle cx="480.9" cy="277.3" r="5.20"/>
<circle cx="486.3" cy="318.9" r="5.20"/>
<circle cx="376.2" cy="215.1" r="5.20"/>
<circle cx="395.2" cy="362.2" r="5.20"/>
<circle cx="411.3" cy="309.7" r="5.20"/>
<circle cx="463.6" cy="345.4" r="5.20"/>
<circle cx="377.7" cy="239.1" r="5.20"/>
<circle cx="437.5" cy="360.7" r="5.20"/>
<circle cx="443.6" cy="317.8" r="5.20"/>
<circle cx="422.0" cy="354.8" r="5.20"/>
<circle cx="448.5" cy="307.6" r="5.20"/>
<circle cx="375.6" cy="238.5" r="5.20"/>
<circle cx="477.1" cy="280.1" r="5.20"/>
<circle cx="371.1" cy="300.9" r="5.20"/>
<circle cx="437.8" cy="422.9" r="5.20"/>
<circle cx="383.5" cy="238.1" r="5.20"/>
<circle cx="450.4" cy="223.7" r="5.20"/>
<circle cx="452.1" cy="315.8" r="5.20"/>
<circle cx="462.9" cy="404.5" r="5.20"/>
<circle cx="352.2" cy="375.2" r="5.20"/>
<circle cx="424.0" cy="336.5" r="5.20"/>
<circle cx="479.5" cy="311.8" r="5.20"/>
<circle cx="454.9" cy="341.0" r="5.20"/>
<circle cx="402.4" cy="188.9" r="5.20"/>
<circle cx="414.1" cy="286.3" r="5.20"/>
<circle cx="473.2" cy="222.5" r="5.20"/>
<circle cx="450.7" cy="307.8" r="5.20"/>
<circle cx="416.8" cy="285.5" r="5.20"/>
<circle cx="400.9" cy="257.5" r="5.20"/>
<circle cx="477.2" cy="264.7" r="5.20"/>
<circle cx="401.7" cy="333.3" r="5.20"/>
<circle cx="419.9" cy="252.4" r="5.20"/>
<circle cx="471.4" cy="304.7" r="5.20"/>
<circle cx="435.9" cy="382.7" r="5.20"/>
<circle cx="436.2" cy="388.4" r="5.20"/>
<circle cx="409.6" cy="352.6" r="5.20"/>
<circle cx="407.7" cy="209.9" r="5.20"/>
<circle cx="449.7" cy="334.3" r="5.20"/>
<circle cx="398.0" cy="333.2" r="5.20"/>
<circle cx="455.8" cy="396.1" r="5.20"/>
<circle cx="506.3" cy="283.9" r="5.20"/>
<circle cx="359.6" cy="275.8" r="5.20"/>
<circle cx="384.2" cy="300.4" r="5.20"/>
<circle cx="451.7" cy="304.4" r="5.20"/>
<circle cx="365.9" cy="296.5" r="5.20"/>
<circle cx="429.4" cy="259.4" r="5.20"/>
<circle cx="415.2" cy="347.0" r="5.20"/>
<circle cx="390.9" cy="310.1" r="5.20"/>
<circle cx="434.3" cy="333.5" r="5.20"/>
<circle cx="472.8" cy="259.0" r="5.20"/>
<circle cx="475.3" cy="300.1" r="5.20"/>
<circle cx="412.8" cy="351.5" r="5.20"/>
<circle cx="401.4" cy="317.9" r="5.20"/>
<circle cx="427.3" cy="293.7" r="5.20"/>
<circle cx="449.7" cy="224.8" r="5.20"/>
<circle cx="460.2" cy="287.8" r="5.20"/>
<circle cx="427.2" cy="278.6" r="5.20"/>
<circle cx="481.1" cy="334.3" r="5.20"/>
<circle cx="456.4" cy="216.1" r="5.20"/>
<circle cx="440.9" cy="260.8" r="5.20"/>
<circle cx="492.1" cy="199.3" r="5.20"/>
<circle cx="455.9" cy="280.2" r="5.20"/>
<circle cx="390.8" cy="309.9" r="5.20"/>
<circle cx="417.2" cy="348.6" r="5.20"/>
<circle cx="450.3" cy="344.6" r="5.20"/>
<circle cx="470.0" cy="273.5" r="5.20"/>
<circle cx="409.3" cy="247.9" r="5.20"/>
<circle cx="454.1" cy="285.5" r="5.20"/>
<circle cx="453.1" cy="334.5" r="5.20"/>
<circle cx="441.9" cy="383.4" r="5.20"/>
<circle cx="427.4" cy="221.5" r="5.20"/>
<circle cx="400.5" cy="260.9" r="5.20"/>
<circle cx="427.2" cy="244.4" r="5.20"/>
<circle cx="456.3" cy="283.0" r="5.20"/>
<circle cx="412.6" cy="253.7" r="5.20"/>
<circle cx="379.8" cy="409.8" r="5.20"/>
<circle cx="405.4" cy="332.3" r="5.20"/>
<circle cx="439.2" cy="292.8" r="5.20"/>
<circle cx="460.0" cy="309.4" r="5.20"/>
<circle cx="460.6" cy="254.1" r="5.20"/>
<circle cx="426.7" cy="250.3" r="5.20"/>
<circle cx="406.3" cy="351.9" r="5.20"/>
<circle cx="422.9" cy="256.1" r="5.20"/>
<circle cx="504.9" cy="316.1" r="5.20"/>
<circle cx="418.1" cy="260.5" r="5.20"/>
<circle cx="479.5" cy="211.9" r="5.20"/>
<circle cx="359.8" cy="302.0" r="5.20"/>
<circle cx="428.7" cy="355.7" r="5.20"/>
<circle cx="432.2" cy="374.3" r="5.20"/>
<circle cx="442.8" cy="284.1" r="5.20"/>
<circle cx="395.1" cy="313.4" r="5.20"/>
<circle cx="443.9" cy="259.3" r="5.20"/>
<circle cx="417.5" cy="363.5" r="5.20"/>
<circle cx="382.5" cy="304.8" r="5.20"/>
<circle cx="477.4" cy="293.2" r="5.20"/>
<circle cx="439.3" cy="333.9" r="5.20"/>
<circle cx="418.1" cy="231.1" r="5.20"/>
<circle cx="429.4" cy="342.2" r="5.20"/>
<circle cx="413.8" cy="254.4" r="5.20"/>
<circle cx="428.0" cy="363.7" r="5.20"/>
<circle cx="388.1" cy="363.6" r="5.20"/>
<circle cx="456.2" cy="285.9" r="5.20"/>
<circle cx="394.5" cy="306.8" r="5.20"/>
<circle cx="388.4" cy="357.1" r="5.20"/>
<circle cx="452.5" cy="350.9" r="5.20"/>
<circle cx="464.3" cy="199.2" r="5.20"/>
<circle cx="361.7" cy="306.1" r="5.20"/>
<circle cx="412.2" cy="395.3" r="5.20"/>
<circle cx="358.5" cy="335.2" r="5.20"/>
<circle cx="438.4" cy="280.4" r="5.20"/>
<circle cx="359.8" cy="290.4" r="5.20"/>
<circle cx="413.9" cy="403.9" r="5.20"/>
<circle cx="461.1" cy="297.0" r="5.20"/>
<circle cx="486.5" cy="233.4" r="5.20"/>
<circle cx="375.6" cy="278.5" r="5.20"/>
<circle cx="454.8" cy="249.4" r="5.20"/>
<circle cx="381.4" cy="222.2" r="5.20"/>
<circle cx="423.5" cy="348.3" r="5.20"/>
<circle cx="360.8" cy="266.2" r="5.20"/>
<circle cx="367.0" cy="295.4" r="5.20"/>
<circle cx="390.4" cy="351.8" r="5.20"/>
<circle cx="453.1" cy="341.8" r="5.20"/>
<circle cx="440.8" cy="332.2" r="5.20"/>
<circle cx="354.1" cy="330.2" r="5.20"/>
<circle cx="361.1" cy="331.6" r="5.20"/>
<circle cx="461.8" cy="295.4" r="5.20"/>
<circle cx="394.4" cy="193.8" r="5.20"/>
<circle cx="430.6" cy="279.5" r="5.20"/>
<circle cx="400.2" cy="313.5" r="5.20"/>
<circle cx="444.1" cy="263.8" r="5.20"/>
<circle cx="398.5" cy="199.7" r="5.20"/>
<circle cx="429.6" cy="385.2" r="5.20"/>
<circle cx="474.2" cy="220.4" r="5.20"/>
<circle cx="466.5" cy="397.6" r="5.20"/>
<circle cx="449.8" cy="330.4" r="5.20"/>
<circle cx="424.1" cy="347.1" r="5.20"/>
<circle cx="366.7" cy="315.9" r="5.20"/>
<circle cx="405.2" cy="264.4" r="5.20"/>
<circle cx="499.6" cy="278.0" r="5.20"/>
<circle cx="408.2" cy="311.7" r="5.20"/>
<circle cx="381.8" cy="212.2" r="5.20"/>
<circle cx="473.5" cy="259.3" r="5.20"/>
<circle cx="379.9" cy="377.9" r="5.20"/>
<circle cx="413.1" cy="361.7" r="5.20"/>
<circle cx="414.6" cy="187.4" r="5.20"/>
<circle cx="402.3" cy="368.0" r="5.20"/>
<circle cx="410.0" cy="311.9" r="5.20"/>
<circle cx="424.9" cy="340.2" r="5.20"/>
<circle cx="380.8" cy="240.0" r="5.20"/>
<circle cx="364.3" cy="237.2" r="5.20"/>
<circle cx="435.5" cy="307.9" r="5.20"/>
<circle cx="368.5" cy="361.1" r="5.20"/>
<circle cx="413.0" cy="341.6" r="5.20"/>
<circle cx="384.0" cy="253.3" r="5.20"/>
<circle cx="426.2" cy="274.0" r="5.20"/>
<circle cx="406.8" cy="178.3" r="5.20"/>
<circle cx="414.8" cy="240.6" r="5.20"/>
<circle cx="366.9" cy="332.4" r="5.20"/>
<circle cx="428.4" cy="298.8" r="5.20"/>
<circle cx="458.4" cy="202.7" r="5.20"/>
<circle cx="371.1" cy="277.1" r="5.20"/>
<circle cx="434.4" cy="398.8" r="5.20"/>
<circle cx="396.6" cy="276.1" r="5.20"/>
<circle cx="473.2" cy="333.8" r="5.20"/>
<circle cx="470.3" cy="312.3" r="5.20"/>
<circle cx="454.7" cy="280.4" r="5.20"/>
<circle cx="409.5" cy="406.4" r="5.20"/>
<circle cx="441.5" cy="314.2" r="5.20"/>
<circle cx="472.9" cy="287.7" r="5.20"/>
<circle cx="433.4" cy="407.1" r="5.20"/>
<circle cx="453.0" cy="339.7" r="5.20"/>
<circle cx="413.6" cy="280.4" r="5.20"/>
<circle cx="370.3" cy="360.1" r="5.20"/>
<circle cx="476.7" cy="278.6" r="5.20"/>
<circle cx="430.0" cy="380.3" r="5.20"/>
<circle cx="410.6" cy="319.7" r="5.20"/>
<circle cx="454.2" cy="270.4" r="5.20"/>
<circle cx="398.2" cy="234.0" r="5.20"/>
<circle cx="419.4" cy="293.7" r="5.20"/>
<circle cx="461.8" cy="315.4" r="5.20"/>
<circle cx="470.1" cy="224.9" r="5.20"/>
<circle cx="404.3" cy="363.6" r="5.20"/>
<circle cx="406.6" cy="270.2" r="5.20"/>
<circle cx="413.2" cy="386.5" r="5.20"/>
<circle cx="429.0" cy="272.7" r="5.20"/>
<circle cx="461.9" cy="316.4" r="5.20"/>
<circle cx="396.3" cy="255.3" r="5.20"/>
<circle cx="459.0" cy="265.5" r="5.20"/>
<circle cx="433.7" cy="309.7" r="5.20"/>
<circle cx="411.5" cy="315.7" r="5.20"/>
<circle cx="460.6" cy="267.3" r="5.20"/>
<circle cx="470.6" cy="256.5" r="5.20"/>
<circle cx="445.0" cy="243.4" r="5.20"/>
<circle cx="451.8" cy="258.8" r="5.20"/>
<circle cx="430.3" cy="340.9" r="5.20"/>
<circle cx="367.2" cy="202.2" r="5.20"/>
<circle cx="484.4" cy="334.3" r="5.20"/>
<circle cx="433.6" cy="270.1" r="5.20"/>
<circle cx="429.6" cy="297.7" r="5.20"/>
<circle cx="419.4" cy="265.6" r="5.20"/>
<circle cx="495.4" cy="302.6" r="5.20"/>
<circle cx="436.8" cy="220.0" r="5.20"/>
<circle cx="437.0" cy="207.7" r="5.20"/>
<circle cx="443.3" cy="277.1" r="5.20"/>
<circle cx="440.3" cy="296.4" r="5.20"/>
<circle cx="399.4" cy="273.7" r="5.20"/>
<circle cx="390.5" cy="360.0" r="5.20"/>
<circle cx="408.7" cy="285.3" r="5.20"/>
<circle cx="486.2" cy="319.4" r="5.20"/>
<circle cx="389.4" cy="361.3" r="5.20"/>
<circle cx="465.2" cy="234.5" r="5.20"/>
<circle cx="430.4" cy="347.0" r="5.20"/>
<circle cx="406.7" cy="338.2" r="5.20"/>
<circle cx="413.3" cy="306.5" r="5.20"/>
<circle cx="451.5" cy="335.1" r="5.20"/>
<circle cx="421.7" cy="343.7" r="5.20"/>
<circle cx="450.6" cy="372.0" r="5.20"/>
<circle cx="406.7" cy="304.8" r="5.20"/>
<circle cx="427.6" cy="349.1" r="5.20"/>
<circle cx="428.9" cy="250.5" r="5.20"/>
<circle cx="395.0" cy="279.5" r="5.20"/>
<circle cx="419.3" cy="350.6" r="5.20"/>
<circle cx="478.8" cy="308.7" r="5.20"/>
<circle cx="431.6" cy="289.8" r="5.20"/>
<circle cx="456.3" cy="230.0" r="5.20"/>
<circle cx="373.3" cy="280.3" r="5.20"/>
<circle cx="438.7" cy="297.6" r="5.20"/>
<circle cx="431.1" cy="244.4" r="5.20"/>
<circle cx="428.1" cy="273.3" r="5.20"/>
<circle cx="416.1" cy="301.2" r="5.20"/>
<circle cx="419.5" cy="364.8" r="5.20"/>
<circle cx="439.8" cy="268.6" r="5.20"/>
<circle cx="388.5" cy="258.4" r="5.20"/>
<circle cx="413.7" cy="370.2" r="5.20"/>
<circle cx="450.9" cy="294.6" r="5.20"/>
<circle cx="451.5" cy="320.1" r="5.20"/>
<circle cx="446.9" cy="250.6" r="5.20"/>
<circle cx="440.1" cy="309.9" r="5.20"/>
<circle cx="387.4" cy="322.9" r="5.20"/>
<circle cx="398.8" cy="244.8" r="5.20"/>
<circle cx="470.3" cy="201.8" r="5.20"/>
<circle cx="480.6" cy="269.6" r="5.20"/>
<circle cx="457.2" cy="230.2" r="5.20"/>
<circle cx="439.9" cy="322.1" r="5.20"/>
<circle cx="397.1" cy="318.0" r="5.20"/>
<circle cx="424.9" cy="218.2" r="5.20"/>
<circle cx="428.7" cy="320.2" r="5.20"/>
<circle cx="438.0" cy="342.0" r="5.20"/>
<circle cx="417.0" cy="259.8" r="5.20"/>
<circle cx="393.1" cy="203.8" r="5.20"/>
<circle cx="411.2" cy="344.6" r="5.20"/>
<circle cx="431.3" cy="221.6" r="5.20"/>
<circle cx="477.4" cy="294.1" r="5.20"/>
<circle cx="446.5" cy="215.2" r="5.20"/>
<circle cx="488.9" cy="290.5" r="5.20"/>
<circle cx="378.1" cy="252.0" r="5.20"/>
<circle cx="413.8" cy="294.2" r="5.20"/>
<circle cx="438.3" cy="226.2" r="5.20"/>
<circle cx="391.0" cy="317.3" r="5.20"/>
<circle cx="415.8" cy="210.3" r="5.20"/>
<circle cx="429.8" cy="255.6" r="5.20"/>
<circle cx="422.9" cy="235.7" r="5.20"/>
<circle cx="415.9" cy="293.6" r="5.20"/>
<circle cx="495.0" cy="263.6" r="5.20"/>
<circle cx="397.8" cy="256.3" r="5.20"/>
<circle cx="421.5" cy="331.5" r="5.20"/>
<circle cx="459.8" cy="302.9" r="5.20"/>
<circle cx="421.5" cy="316.2" r="5.20"/>
<circle cx="420.6" cy="275.0" r="5.20"/>
<circle cx="448.6" cy="313.0" r="5.20"/>
<circle cx="397.0" cy="304.5" r="5.20"/>
<circle cx="405.7" cy="323.2" r="5.20"/>
<circle cx="468.8" cy="249.7" r="5.20"/>
<circle cx="451.7" cy="335.3" r="5.20"/>
<circle cx="479.0" cy="308.5" r="5.20"/>
<circle cx="428.0" cy="373.9" r="5.20"/>
<circle cx="412.6" cy="264.4" r="5.20"/>
<circle cx="442.1" cy="381.6" r="5.20"/>
<circle cx="444.0" cy="328.4" r="5.20"/>
<circle cx="405.9" cy="338.4" r="5.20"/>
<circle cx="440.3" cy="209.7" r="5.20"/>
<circle cx="431.6" cy="334.8" r="5.20"/>
<circle cx="433.1" cy="212.1" r="5.20"/>
<circle cx="415.9" cy="178.7" r="5.20"/>
<circle cx="412.3" cy="259.4" r="5.20"/>
<circle cx="429.8" cy="264.3" r="5.20"/>
<circle cx="467.7" cy="267.1" r="5.20"/>
<circle cx="408.0" cy="296.1" r="5.20"/>
<circle cx="381.3" cy="239.4" r="5.20"/>
<circle cx="407.6" cy="273.6" r="5.20"/>
<circle cx="397.4" cy="274.5" r="5.20"/>
<circle cx="451.3" cy="297.1" r="5.20"/>
<circle cx="451.0" cy="218.8" r="5.20"/>
<circle cx="414.5" cy="353.5" r="5.20"/>
<circle cx="475.3" cy="323.8" r="5.20"/>
<circle cx="464.9" cy="321.3" r="5.20"/>
<circle cx="406.5" cy="303.1" r="5.20"/>
<circle cx="440.4" cy="191.6" r="5.20"/>
<circle cx="402.2" cy="267.9" r="5.20"/>
<circle cx="438.5" cy="336.9" r="5.20"/>
<circle cx="417.4" cy="211.2" r="5.20"/>
<circle cx="416.2" cy="307.7" r="5.20"/>
<circle cx="431.7" cy="374.8" r="5.20"/>
<circle cx="397.0" cy="313.2" r="5.20"/>
<circle cx="407.9" cy="411.8" r="5.20"/>
<circle cx="463.4" cy="304.2" r="5.20"/>
<circle cx="440.0" cy="205.7" r="5.20"/>
<circle cx="406.7" cy="336.6" r="5.20"/>
<circle cx="452.0" cy="291.4" r="5.20"/>
<circle cx="426.6" cy="266.7" r="5.20"/>
<circle cx="431.6" cy="271.7" r="5.20"/>
<circle cx="403.6" cy="307.6" r="5.20"/>
<circle cx="433.1" cy="300.4" r="5.20"/>
<circle cx="439.7" cy="190.1" r="5.20"/>
<circle cx="414.2" cy="354.0" r="5.20"/>
<circle cx="500.8" cy="314.0" r="5.20"/>
<circle cx="401.2" cy="369.7" r="5.20"/>
<circle cx="468.1" cy="339.9" r="5.20"/>
<circle cx="406.1" cy="313.9" r="5.20"/>
<circle cx="424.8" cy="242.9" r="5.20"/>
<circle cx="437.7" cy="305.8" r="5.20"/>
<circle cx="364.2" cy="280.1" r="5.20"/>
<circle cx="390.0" cy="302.4" r="5.20"/>
<circle cx="437.9" cy="268.6" r="5.20"/>
<circle cx="372.8" cy="279.3" r="5.20"/>
<circle cx="450.3" cy="330.3" r="5.20"/>
<circle cx="416.8" cy="354.2" r="5.20"/>
<circle cx="464.8" cy="401.6" r="5.20"/>
<circle cx="405.7" cy="276.8" r="5.20"/>
<circle cx="423.7" cy="331.2" r="5.20"/>
<circle cx="458.6" cy="292.0" r="5.20"/>
<circle cx="470.5" cy="226.2" r="5.20"/>
<circle cx="444.1" cy="195.7" r="5.20"/>
<circle cx="457.0" cy="249.1" r="5.20"/>
<circle cx="465.8" cy="306.4" r="5.20"/>
<circle cx="422.6" cy="236.9" r="5.20"/>
<circle cx="472.5" cy="243.9" r="5.20"/>
<circle cx="420.0" cy="286.3" r="5.20"/>
<circle cx="481.8" cy="246.9" r="5.20"/>
<circle cx="460.4" cy="265.4" r="5.20"/>
<circle cx="453.9" cy="238.7" r="5.20"/>
<circle cx="409.6" cy="295.9" r="5.20"/>
<circle cx="417.6" cy="275.5" r="5.20"/>
<circle cx="432.7" cy="263.4" r="5.20"/>
<circle cx="436.4" cy="278.4" r="5.20"/>
<circle cx="447.0" cy="286.1" r="5.20"/>
<circle cx="423.5" cy="316.2" r="5.20"/>
<circle cx="471.4" cy="277.2" r="5.20"/>
<circle cx="397.8" cy="240.9" r="5.20"/>
<circle cx="463.5" cy="364.2" r="5.20"/>
<circle cx="442.4" cy="287.3" r="5.20"/>
<circle cx="423.3" cy="261.4" r="5.20"/>
<circle cx="407.6" cy="190.8" r="5.20"/>
<circle cx="424.8" cy="286.2" r="5.20"/>
<circle cx="388.3" cy="403.6" r="5.20"/>
<circle cx="390.3" cy="217.6" r="5.20"/>
<circle cx="445.5" cy="199.1" r="5.20"/>
<circle cx="458.5" cy="356.0" r="5.20"/>
<circle cx="487.0" cy="289.4" r="5.20"/>
<circle cx="396.4" cy="334.6" r="5.20"/>
<circle cx="451.3" cy="299.6" r="5.20"/>
<circle cx="464.7" cy="299.6" r="5.20"/>
<circle cx="444.3" cy="257.2" r="5.20"/>
<circle cx="439.5" cy="337.4" r="5.20"/>
<circle cx="451.7" cy="245.7" r="5.20"/>
<circle cx="418.5" cy="319.6" r="5.20"/>
<circle cx="426.4" cy="254.2" r="5.20"/>
<circle cx="481.6" cy="220.1" r="5.20"/>
<circle cx="401.3" cy="300.9" r="5.20"/>
<circle cx="428.8" cy="258.2" r="5.20"/>
<circle cx="458.6" cy="294.5" r="5.20"/>
<circle cx="418.4" cy="318.2" r="5.20"/>
<circle cx="357.0" cy="308.2" r="5.20"/>
<circle cx="468.1" cy="292.5" r="5.20"/>
<circle cx="364.0" cy="244.5" r="5.20"/>
<circle cx="381.0" cy="288.6" r="5.20"/>
<circle cx="390.2" cy="255.2" r="5.20"/>
<circle cx="453.6" cy="378.2" r="5.20"/>
<circle cx="429.9" cy="313.8" r="5.20"/>
<circle cx="440.6" cy="290.1" r="5.20"/>
<circle cx="437.2" cy="283.4" r="5.20"/>
<circle cx="411.1" cy="360.5" r="5.20"/>
<circle cx="479.8" cy="282.2" r="5.20"/>
<circle cx="456.5" cy="293.4" r="5.20"/>
<circle cx="438.7" cy="371.4" r="5.20"/>
<circle cx="455.2" cy="282.8" r="5.20"/>
<circle cx="468.1" cy="296.7" r="5.20"/>
<circle cx="430.6" cy="309.1" r="5.20"/>
<circle cx="429.5" cy="327.9" r="5.20"/>
<circle cx="402.3" cy="305.1" r="5.20"/>
<circle cx="427.7" cy="319.5" r="5.20"/>
<circle cx="425.7" cy="370.7" r="5.20"/>
<circle cx="501.9" cy="291.7" r="5.20"/>
<circle cx="463.9" cy="302.0" r="5.20"/>
<circle cx="463.4" cy="296.1" r="5.20"/>
<circle cx="433.3" cy="294.6" r="5.20"/>
<circle cx="441.9" cy="259.5" r="5.20"/>
<circle cx="479.8" cy="228.3" r="5.20"/>
<circle cx="408.6" cy="228.0" r="5.20"/>
<circle cx="395.0" cy="280.0" r="5.20"/>
<circle cx="448.7" cy="382.2" r="5.20"/>
<circle cx="412.5" cy="312.6" r="5.20"/>
<circle cx="390.4" cy="310.6" r="5.20"/>
<circle cx="419.5" cy="337.3" r="5.20"/>
<circle cx="419.7" cy="332.1" r="5.20"/>
<circle cx="429.6" cy="272.7" r="5.20"/>
<circle cx="412.9" cy="253.3" r="5.20"/>
<circle cx="457.4" cy="343.6" r="5.20"/>
<circle cx="388.1" cy="391.8" r="5.20"/>
<circle cx="390.6" cy="252.1" r="5.20"/>
<circle cx="387.1" cy="283.9" r="5.20"/>
<circle cx="406.8" cy="355.3" r="5.20"/>
<circle cx="446.2" cy="332.0" r="5.20"/>
<circle cx="427.6" cy="297.5" r="5.20"/>
<circle cx="423.4" cy="245.3" r="5.20"/>
<circle cx="422.5" cy="289.5" r="5.20"/>
<circle cx="451.5" cy="261.5" r="5.20"/>
<circle cx="432.0" cy="222.6" r="5.20"/>
<circle cx="441.9" cy="375.9" r="5.20"/>
<circle cx="426.4" cy="341.1" r="5.20"/>
<circle cx="413.7" cy="270.0" r="5.20"/>
<circle cx="426.4" cy="262.2" r="5.20"/>
<circle cx="490.4" cy="271.2" r="5.20"/>
<circle cx="397.8" cy="267.1" r="5.20"/>
<circle cx="417.8" cy="255.1" r="5.20"/>
<circle cx="432.2" cy="303.3" r="5.20"/>
<circle cx="408.1" cy="287.7" r="5.20"/>
<circle cx="443.5" cy="365.7" r="5.20"/>
<circle cx="386.3" cy="248.1" r="5.20"/>
<circle cx="438.6" cy="264.7" r="5.20"/>
<circle cx="452.4" cy="211.1" r="5.20"/>
<circle cx="380.4" cy="300.5" r="5.20"/>
<circle cx="410.2" cy="304.7" r="5.20"/>
<circle cx="442.4" cy="343.5" r="5.20"/>
<circle cx="421.6" cy="252.4" r="5.20"/>
<circle cx="384.4" cy="266.6" r="5.20"/>
<circle cx="391.8" cy="296.6" r="5.20"/>
<circle cx="453.6" cy="329.5" r="5.20"/>
<circle cx="390.5" cy="273.6" r="5.20"/>
<circle cx="405.9" cy="307.2" r="5.20"/>
<circle cx="458.3" cy="237.4" r="5.20"/>
<circle cx="460.2" cy="300.8" r="5.20"/>
<circle cx="380.0" cy="252.5" r="5.20"/>
<circle cx="430.2" cy="235.6" r="5.20"/>
<circle cx="448.5" cy="369.4" r="5.20"/>
<circle cx="424.3" cy="273.0" r="5.20"/>
<circle cx="433.7" cy="210.8" r="5.20"/>
<circle cx="449.1" cy="339.9" r="5.20"/>
<circle cx="406.9" cy="261.8" r="5.20"/>
<circle cx="413.0" cy="320.4" r="5.20"/>
<circle cx="385.9" cy="411.0" r="5.20"/>
<circle cx="394.2" cy="422.7" r="5.20"/>
<circle cx="391.5" cy="421.5" r="5.20"/>
<circle cx="357.4" cy="395.0" r="5.20"/>
<circle cx="401.3" cy="405.6" r="5.20"/>
<circle cx="399.2" cy="374.6" r="5.20"/>
<circle cx="378.5" cy="382.3" r="5.20"/>
<circle cx="382.1" cy="401.3" r="5.20"/>
<circle cx="356.6" cy="380.6" r="5.20"/>
<circle cx="369.4" cy="421.1" r="5.20"/>
<circle cx="392.8" cy="377.3" r="5.20"/>
<circle cx="394.3" cy="376.0" r="5.20"/>
<circle cx="385.6" cy="375.3" r="5.20"/>
<circle cx="356.1" cy="418.5" r="5.20"/>
<circle cx="366.1" cy="380.5" r="5.20"/>
<circle cx="403.2" cy="418.6" r="5.20"/>
<circle cx="369.9" cy="423.8" r="5.20"/>
<circle cx="381.9" cy="407.3" r="5.20"/>
<circle cx="365.8" cy="422.6" r="5.20"/>
<circle cx="389.2" cy="424.1" r="5.20"/>
<circle cx="398.9" cy="385.3" r="5.20"/>
<circle cx="373.3" cy="377.6" r="5.20"/>
<circle cx="363.0" cy="371.8" r="5.20"/>
<circle cx="370.5" cy="403.0" r="5.20"/>
<circle cx="356.2" cy="407.3" r="5.20"/>
<circle cx="372.2" cy="386.0" r="5.20"/>
<circle cx="395.3" cy="395.9" r="5.20"/>
<circle cx="371.2" cy="395.9" r="5.20"/>
<circle cx="505.6" cy="220.0" r="5.20"/>
<circle cx="512.4" cy="215.2" r="5.20"/>
<circle cx="506.7" cy="330.3" r="5.20"/>
<circle cx="488.5" cy="322.3" r="5.20"/>
<circle cx="497.2" cy="293.0" r="5.20"/>
<circle cx="488.2" cy="218.5" r="5.20"/>
<circle cx="492.5" cy="345.7" r="5.20"/>
<circle cx="492.9" cy="317.8" r="5.20"/>
<circle cx="511.2" cy="343.9" r="5.20"/>
<circle cx="496.6" cy="261.7" r="5.20"/>
<circle cx="501.1" cy="320.6" r="5.20"/>
<circle cx="490.7" cy="316.8" r="5.20"/>
<circle cx="507.9" cy="332.4" r="5.20"/>
<circle cx="488.9" cy="344.4" r="5.20"/>
<circle cx="490.3" cy="259.7" r="5.20"/>
<circle cx="503.3" cy="340.5" r="5.20"/>
<circle cx="496.5" cy="341.4" r="5.20"/>
<circle cx="501.6" cy="255.7" r="5.20"/>
<circle cx="495.9" cy="236.8" r="5.20"/>
<circle cx="490.0" cy="232.8" r="5.20"/>
<circle cx="505.2" cy="351.5" r="5.20"/>
<circle cx="492.0" cy="218.8" r="5.20"/>
<circle cx="512.7" cy="286.7" r="5.20"/>
<circle cx="498.1" cy="245.2" r="5.20"/>
<circle cx="502.8" cy="327.7" r="5.20"/>
<circle cx="499.4" cy="271.0" r="5.20"/>
<circle cx="489.4" cy="340.2" r="5.20"/>
<circle cx="488.8" cy="281.1" r="5.20"/>
<circle cx="509.0" cy="230.3" r="5.20"/>
<circle cx="506.3" cy="345.0" r="5.20"/>
<circle cx="503.8" cy="322.3" r="5.20"/>
<circle cx="490.7" cy="272.8" r="5.20"/>
<circle cx="491.7" cy="330.3" r="5.20"/>
<circle cx="495.4" cy="275.4" r="5.20"/>
<circle cx="513.0" cy="331.3" r="5.20"/>
<circle cx="512.4" cy="275.5" r="5.20"/>
<circle cx="500.2" cy="314.1" r="5.20"/>
<circle cx="500.0" cy="252.7" r="5.20"/>
<circle cx="498.1" cy="232.5" r="5.20"/>
<circle cx="497.4" cy="350.4" r="5.20"/>
<circle cx="512.0" cy="299.8" r="5.20"/>
<circle cx="500.5" cy="259.4" r="5.20"/>
<circle cx="337.5" cy="297.0" r="5.20"/>
<circle cx="341.1" cy="297.0" r="5.20"/>
<circle cx="344.7" cy="297.0" r="5.20"/>
<circle cx="348.3" cy="297.0" r="5.20"/>
<circle cx="351.9" cy="297.0" r="5.20"/>
<circle cx="355.5" cy="297.0" r="5.20"/>
<circle cx="359.1" cy="297.0" r="5.20"/>
<circle cx="362.7" cy="297.0" r="5.20"/>
<circle cx="366.3" cy="297.0" r="5.20"/>
<circle cx="373.3" cy="297.0" r="5.20"/>
<circle cx="380.3" cy="297.0" r="5.20"/>
<circle cx="387.3" cy="297.0" r="5.20"/>
<circle cx="394.3" cy="297.0" r="5.20"/>
<circle cx="401.3" cy="297.0" r="5.20"/>
<circle cx="484.0" cy="297.0" r="5.20"/>
<circle cx="492.0" cy="297.0" r="5.20"/>
<circle cx="500.0" cy="297.0" r="5.20"/>
<circle cx="508.0" cy="297.0" r="5.20"/>
<circle cx="430.6" cy="182.0" r="5.20"/>
<circle cx="430.6" cy="187.0" r="5.20"/>
<circle cx="430.6" cy="192.0" r="5.20"/>
<circle cx="430.6" cy="197.0" r="5.20"/>
<circle cx="430.6" cy="202.0" r="5.20"/>
<circle cx="430.6" cy="207.0" r="5.20"/>
<circle cx="430.6" cy="212.0" r="5.20"/>
<circle cx="430.6" cy="405.0" r="5.20"/>
<circle cx="430.6" cy="414.0" r="5.20"/>
<circle cx="291.5" cy="122.5" r="5.20"/>
<circle cx="323.5" cy="110.8" r="5.20"/>
<circle cx="279.8" cy="164.2" r="5.20"/>
<circle cx="325.8" cy="166.2" r="5.20"/>
<circle cx="348.0" cy="153.8" r="5.20"/>
<circle cx="342.8" cy="174.5" r="5.20"/>
<circle cx="326.5" cy="186.2" r="5.20"/>
<circle cx="368.5" cy="87.2" r="5.20"/>
<circle cx="386.5" cy="63.8" r="5.20"/>
<circle cx="392.0" cy="98.0" r="5.20"/>
<circle cx="376.5" cy="113.8" r="5.20"/>
<circle cx="389.0" cy="110.5" r="5.20"/>
<circle cx="366.5" cy="131.0" r="5.20"/>
<circle cx="376.5" cy="135.0" r="5.20"/>
<circle cx="377.0" cy="136.8" r="5.20"/>
<circle cx="377.2" cy="153.0" r="5.20"/>
<circle cx="389.0" cy="150.0" r="5.20"/>
<circle cx="389.5" cy="158.8" r="5.20"/>
<circle cx="367.8" cy="159.5" r="5.20"/>
<circle cx="372.0" cy="158.0" r="5.20"/>
<circle cx="370.2" cy="163.8" r="5.20"/>
<circle cx="376.5" cy="161.2" r="5.20"/>
<circle cx="368.2" cy="166.8" r="5.20"/>
<circle cx="372.8" cy="178.0" r="5.20"/>
<circle cx="364.0" cy="180.0" r="5.20"/>
<circle cx="379.5" cy="186.2" r="5.20"/>
<circle cx="367.8" cy="191.2" r="5.20"/>
<circle cx="385.2" cy="176.2" r="5.20"/>
<circle cx="389.0" cy="177.5" r="5.20"/>
<circle cx="392.0" cy="177.0" r="5.20"/>
<circle cx="356.0" cy="190.0" r="5.20"/>
<circle cx="359.0" cy="187.5" r="5.20"/>
<circle cx="348.2" cy="188.0" r="5.20"/>
<circle cx="340.2" cy="193.8" r="5.20"/>
<circle cx="342.0" cy="197.5" r="5.20"/>
<circle cx="350.2" cy="200.0" r="5.20"/>
<circle cx="356.5" cy="200.5" r="5.20"/>
<circle cx="384.0" cy="193.8" r="5.20"/>
<circle cx="387.8" cy="197.5" r="5.20"/>
<circle cx="391.5" cy="200.0" r="5.20"/>
<circle cx="369.0" cy="205.0" r="5.20"/>
<circle cx="376.5" cy="202.5" r="5.20"/>
<circle cx="409.8" cy="45.0" r="5.20"/>
<circle cx="439.0" cy="45.0" r="5.20"/>
<circle cx="452.5" cy="45.0" r="5.20"/>
<circle cx="481.0" cy="45.0" r="5.20"/>
<circle cx="398.0" cy="66.2" r="5.20"/>
<circle cx="411.0" cy="62.5" r="5.20"/>
<circle cx="439.8" cy="61.8" r="5.20"/>
<circle cx="460.5" cy="68.8" r="5.20"/>
<circle cx="467.8" cy="67.5" r="5.20"/>
<circle cx="464.8" cy="79.5" r="5.20"/>
<circle cx="493.0" cy="64.2" r="5.20"/>
<circle cx="512.5" cy="68.0" r="5.20"/>
<circle cx="519.0" cy="87.0" r="5.20"/>
<circle cx="406.0" cy="90.5" r="5.20"/>
<circle cx="418.0" cy="101.2" r="5.20"/>
<circle cx="437.2" cy="90.5" r="5.20"/>
<circle cx="430.2" cy="105.5" r="5.20"/>
<circle cx="439.0" cy="110.0" r="5.20"/>
<circle cx="455.0" cy="101.0" r="5.20"/>
<circle cx="398.5" cy="114.5" r="5.20"/>
<circle cx="415.5" cy="120.5" r="5.20"/>
<circle cx="474.2" cy="113.5" r="5.20"/>
<circle cx="484.2" cy="114.5" r="5.20"/>
<circle cx="397.2" cy="132.5" r="5.20"/>
<circle cx="430.2" cy="128.8" r="5.20"/>
<circle cx="447.2" cy="125.0" r="5.20"/>
<circle cx="439.0" cy="135.0" r="5.20"/>
<circle cx="430.2" cy="137.0" r="5.20"/>
<circle cx="430.2" cy="142.5" r="5.20"/>
<circle cx="471.5" cy="135.0" r="5.20"/>
<circle cx="495.5" cy="128.8" r="5.20"/>
<circle cx="507.2" cy="128.8" r="5.20"/>
<circle cx="495.5" cy="138.0" r="5.20"/>
<circle cx="455.0" cy="138.8" r="5.20"/>
<circle cx="462.2" cy="139.2" r="5.20"/>
<circle cx="452.2" cy="145.5" r="5.20"/>
<circle cx="473.5" cy="145.5" r="5.20"/>
<circle cx="484.0" cy="145.5" r="5.20"/>
<circle cx="488.0" cy="145.5" r="5.20"/>
<circle cx="507.2" cy="145.5" r="5.20"/>
<circle cx="413.0" cy="145.0" r="5.20"/>
<circle cx="418.0" cy="145.5" r="5.20"/>
<circle cx="444.8" cy="152.5" r="5.20"/>
<circle cx="438.0" cy="157.0" r="5.20"/>
<circle cx="418.0" cy="155.0" r="5.20"/>
<circle cx="453.0" cy="161.2" r="5.20"/>
<circle cx="496.8" cy="156.2" r="5.20"/>
<circle cx="509.0" cy="155.0" r="5.20"/>
<circle cx="503.0" cy="160.5" r="5.20"/>
<circle cx="496.8" cy="165.0" r="5.20"/>
<circle cx="519.8" cy="163.8" r="5.20"/>
<circle cx="406.0" cy="158.0" r="5.20"/>
<circle cx="403.0" cy="160.0" r="5.20"/>
<circle cx="396.0" cy="161.2" r="5.20"/>
<circle cx="422.2" cy="160.5" r="5.20"/>
<circle cx="421.0" cy="166.2" r="5.20"/>
<circle cx="402.2" cy="171.2" r="5.20"/>
<circle cx="413.5" cy="171.2" r="5.20"/>
<circle cx="420.2" cy="178.8" r="5.20"/>
<circle cx="430.2" cy="173.0" r="5.20"/>
<circle cx="430.2" cy="177.5" r="5.20"/>
<circle cx="439.8" cy="173.0" r="5.20"/>
<circle cx="443.5" cy="175.0" r="5.20"/>
<circle cx="452.2" cy="177.0" r="5.20"/>
<circle cx="471.0" cy="170.5" r="5.20"/>
<circle cx="468.5" cy="175.0" r="5.20"/>
<circle cx="488.0" cy="170.5" r="5.20"/>
<circle cx="491.5" cy="178.8" r="5.20"/>
<circle cx="514.8" cy="171.2" r="5.20"/>
<circle cx="509.0" cy="176.2" r="5.20"/>
<circle cx="533.0" cy="174.5" r="5.20"/>
<circle cx="551.0" cy="179.2" r="5.20"/>
<circle cx="562.8" cy="161.0" r="5.20"/>
<circle cx="574.2" cy="175.5" r="5.20"/>
<circle cx="520.2" cy="188.2" r="5.20"/>
<circle cx="511.0" cy="193.8" r="5.20"/>
<circle cx="499.8" cy="195.0" r="5.20"/>
<circle cx="504.8" cy="201.2" r="5.20"/>
<circle cx="488.5" cy="197.5" r="5.20"/>
<circle cx="492.2" cy="200.5" r="5.20"/>
<circle cx="481.0" cy="186.2" r="5.20"/>
<circle cx="476.0" cy="182.5" r="5.20"/>
<circle cx="471.0" cy="178.8" r="5.20"/>
<circle cx="463.5" cy="182.5" r="5.20"/>
<circle cx="461.0" cy="185.0" r="5.20"/>
<circle cx="452.2" cy="185.0" r="5.20"/>
<circle cx="553.8" cy="205.5" r="5.20"/>
<circle cx="553.8" cy="208.0" r="5.20"/>
<circle cx="533.2" cy="212.5" r="5.20"/>
<circle cx="540.0" cy="220.5" r="5.20"/>
<circle cx="520.5" cy="228.0" r="5.20"/>
<circle cx="534.5" cy="229.5" r="5.20"/>
<circle cx="540.5" cy="230.0" r="5.20"/>
<circle cx="535.0" cy="233.8" r="5.20"/>
<circle cx="539.0" cy="236.8" r="5.20"/>
<circle cx="532.5" cy="238.0" r="5.20"/>
<circle cx="561.2" cy="233.8" r="5.20"/>
<circle cx="563.8" cy="246.2" r="5.20"/>
<circle cx="520.5" cy="243.0" r="5.20"/>
<circle cx="515.5" cy="239.2" r="5.20"/>
<circle cx="508.8" cy="238.0" r="5.20"/>
<circle cx="520.0" cy="253.0" r="5.20"/>
<circle cx="590.0" cy="249.5" r="5.20"/>
<circle cx="587.0" cy="253.0" r="5.20"/>
<circle cx="543.0" cy="265.5" r="5.20"/>
<circle cx="536.2" cy="272.5" r="5.20"/>
<circle cx="545.8" cy="273.8" r="5.20"/>
<circle cx="568.8" cy="273.8" r="5.20"/>
<circle cx="518.8" cy="271.2" r="5.20"/>
<circle cx="518.0" cy="278.8" r="5.20"/>
<circle cx="535.0" cy="281.8" r="5.20"/>
<circle cx="526.2" cy="288.0" r="5.20"/>
<circle cx="513.8" cy="285.0" r="5.20"/>
<circle cx="561.2" cy="291.8" r="5.20"/>
<circle cx="558.0" cy="297.0" r="5.20"/>
<circle cx="570.0" cy="296.8" r="5.20"/>
<circle cx="564.5" cy="295.0" r="5.20"/>
<circle cx="533.0" cy="296.2" r="5.20"/>
<circle cx="521.2" cy="297.5" r="5.20"/>
<circle cx="595.0" cy="302.5" r="5.20"/>
<circle cx="560.0" cy="307.5" r="5.20"/>
<circle cx="560.0" cy="310.0" r="5.20"/>
<circle cx="533.2" cy="305.5" r="5.20"/>
<circle cx="535.0" cy="313.8" r="5.20"/>
<circle cx="526.2" cy="313.8" r="5.20"/>
<circle cx="520.0" cy="303.8" r="5.20"/>
<circle cx="547.5" cy="323.8" r="5.20"/>
<circle cx="547.5" cy="326.2" r="5.20"/>
<circle cx="574.2" cy="324.2" r="5.20"/>
<circle cx="568.8" cy="329.5" r="5.20"/>
<circle cx="556.2" cy="336.2" r="5.20"/>
<circle cx="547.5" cy="335.5" r="5.20"/>
<circle cx="580.0" cy="336.2" r="5.20"/>
<circle cx="582.5" cy="335.0" r="5.20"/>
<circle cx="532.5" cy="322.5" r="5.20"/>
<circle cx="526.2" cy="320.0" r="5.20"/>
<circle cx="616.5" cy="351.2" r="5.20"/>
<circle cx="598.0" cy="347.0" r="5.20"/>
<circle cx="583.8" cy="356.2" r="5.20"/>
<circle cx="575.0" cy="341.2" r="5.20"/>
<circle cx="569.2" cy="346.8" r="5.20"/>
<circle cx="565.0" cy="342.5" r="5.20"/>
<circle cx="557.0" cy="346.8" r="5.20"/>
<circle cx="526.2" cy="341.2" r="5.20"/>
<circle cx="532.0" cy="355.8" r="5.20"/>
<circle cx="525.8" cy="362.5" r="5.20"/>
<circle cx="511.2" cy="361.2" r="5.20"/>
<circle cx="509.5" cy="353.8" r="5.20"/>
<circle cx="501.2" cy="356.2" r="5.20"/>
<circle cx="487.5" cy="363.8" r="5.20"/>
<circle cx="497.5" cy="372.5" r="5.20"/>
<circle cx="493.8" cy="375.0" r="5.20"/>
<circle cx="487.5" cy="384.5" r="5.20"/>
<circle cx="515.0" cy="380.5" r="5.20"/>
<circle cx="526.2" cy="380.5" r="5.20"/>
<circle cx="533.2" cy="386.2" r="5.20"/>
<circle cx="512.5" cy="388.8" r="5.20"/>
<circle cx="551.8" cy="392.0" r="5.20"/>
<circle cx="478.8" cy="393.8" r="5.20"/>
<circle cx="474.2" cy="401.2" r="5.20"/>
<circle cx="483.8" cy="403.8" r="5.20"/>
<circle cx="487.5" cy="408.0" r="5.20"/>
<circle cx="492.5" cy="408.8" r="5.20"/>
<circle cx="498.8" cy="404.2" r="5.20"/>
<circle cx="502.5" cy="406.2" r="5.20"/>
<circle cx="526.2" cy="410.8" r="5.20"/>
<circle cx="535.0" cy="407.5" r="5.20"/>
<circle cx="553.8" cy="411.2" r="5.20"/>
<circle cx="473.8" cy="412.5" r="5.20"/>
<circle cx="478.8" cy="416.2" r="5.20"/>
<circle cx="488.0" cy="417.5" r="5.20"/>
<circle cx="472.5" cy="422.5" r="5.20"/>
<circle cx="478.8" cy="423.0" r="5.20"/>
<circle cx="480.0" cy="426.2" r="5.20"/>
<circle cx="526.2" cy="426.2" r="5.20"/>
<circle cx="453.8" cy="422.5" r="5.20"/>
<circle cx="446.2" cy="422.0" r="5.20"/>
<circle cx="445.0" cy="428.8" r="5.20"/>
<circle cx="465.0" cy="438.8" r="5.20"/>
<circle cx="468.8" cy="440.0" r="5.20"/>
<circle cx="478.8" cy="440.0" r="5.20"/>
<circle cx="475.0" cy="444.5" r="5.20"/>
<circle cx="468.8" cy="448.0" r="5.20"/>
<circle cx="460.0" cy="451.2" r="5.20"/>
<circle cx="457.5" cy="455.0" r="5.20"/>
<circle cx="441.2" cy="447.5" r="5.20"/>
<circle cx="450.8" cy="464.5" r="5.20"/>
<circle cx="510.0" cy="459.8" r="5.20"/>
<circle cx="535.0" cy="473.0" r="5.20"/>
<circle cx="440.0" cy="476.2" r="5.20"/>
<circle cx="474.0" cy="476.2" r="5.20"/>
<circle cx="495.2" cy="474.2" r="5.20"/>
<circle cx="493.0" cy="485.5" r="5.20"/>
<circle cx="484.5" cy="492.0" r="5.20"/>
<circle cx="480.8" cy="497.0" r="5.20"/>
<circle cx="478.8" cy="501.2" r="5.20"/>
<circle cx="477.0" cy="503.8" r="5.20"/>
<circle cx="474.2" cy="506.8" r="5.20"/>
<circle cx="455.0" cy="497.5" r="5.20"/>
<circle cx="451.2" cy="506.2" r="5.20"/>
<circle cx="443.8" cy="506.2" r="5.20"/>
<circle cx="448.8" cy="515.0" r="5.20"/>
<circle cx="451.2" cy="521.2" r="5.20"/>
<circle cx="491.8" cy="516.2" r="5.20"/>
<circle cx="508.8" cy="516.2" r="5.20"/>
<circle cx="517.0" cy="518.0" r="5.20"/>
<circle cx="505.0" cy="523.0" r="5.20"/>
<circle cx="478.2" cy="523.8" r="5.20"/>
<circle cx="480.0" cy="527.5" r="5.20"/>
<circle cx="455.0" cy="526.2" r="5.20"/>
<circle cx="443.0" cy="529.2" r="5.20"/>
<circle cx="441.2" cy="526.2" r="5.20"/>
<circle cx="441.2" cy="548.8" r="5.20"/>
<circle cx="453.8" cy="548.8" r="5.20"/>
<circle cx="458.0" cy="548.8" r="5.20"/>
<circle cx="491.8" cy="548.8" r="5.20"/>
<circle cx="345.8" cy="548.8" r="5.20"/>
<circle cx="392.5" cy="548.8" r="5.20"/>
<circle cx="421.2" cy="548.8" r="5.20"/>
<circle cx="437.5" cy="548.8" r="5.20"/>
<circle cx="310.5" cy="430.5" r="5.20"/>
<circle cx="310.5" cy="437.0" r="5.20"/>
<circle cx="303.8" cy="453.0" r="5.20"/>
<circle cx="335.0" cy="444.2" r="5.20"/>
<circle cx="343.8" cy="443.8" r="5.20"/>
<circle cx="347.0" cy="442.0" r="5.20"/>
<circle cx="348.2" cy="452.5" r="5.20"/>
<circle cx="335.0" cy="457.0" r="5.20"/>
<circle cx="342.5" cy="465.0" r="5.20"/>
<circle cx="350.0" cy="465.0" r="5.20"/>
<circle cx="353.8" cy="428.0" r="5.20"/>
<circle cx="360.0" cy="437.0" r="5.20"/>
<circle cx="363.8" cy="430.0" r="5.20"/>
<circle cx="368.8" cy="437.5" r="5.20"/>
<circle cx="369.5" cy="443.8" r="5.20"/>
<circle cx="379.5" cy="437.0" r="5.20"/>
<circle cx="379.5" cy="448.0" r="5.20"/>
<circle cx="372.5" cy="430.0" r="5.20"/>
<circle cx="362.5" cy="422.5" r="5.20"/>
<circle cx="375.0" cy="422.5" r="5.20"/>
<circle cx="386.2" cy="427.5" r="5.20"/>
<circle cx="387.5" cy="431.2" r="5.20"/>
<circle cx="392.5" cy="438.8" r="5.20"/>
<circle cx="395.0" cy="441.2" r="5.20"/>
<circle cx="394.5" cy="452.5" r="5.20"/>
<circle cx="402.5" cy="437.5" r="5.20"/>
<circle cx="405.0" cy="430.0" r="5.20"/>
<circle cx="407.5" cy="425.0" r="5.20"/>
<circle cx="368.8" cy="476.5" r="5.20"/>
<circle cx="382.0" cy="479.5" r="5.20"/>
<circle cx="390.0" cy="479.2" r="5.20"/>
<circle cx="365.5" cy="490.5" r="5.20"/>
<circle cx="395.8" cy="494.2" r="5.20"/>
<circle cx="412.5" cy="485.8" r="5.20"/>
<circle cx="411.2" cy="465.0" r="5.20"/>
<circle cx="417.0" cy="471.2" r="5.20"/>
<circle cx="420.5" cy="470.0" r="5.20"/>
<circle cx="365.0" cy="506.8" r="5.20"/>
<circle cx="334.5" cy="527.5" r="5.20"/>
<circle cx="362.5" cy="526.8" r="5.20"/>
<circle cx="372.8" cy="523.0" r="5.20"/>
<circle cx="394.2" cy="527.5" r="5.20"/>
<circle cx="421.2" cy="451.2" r="5.20"/>
<circle cx="430.0" cy="438.8" r="5.20"/>
<circle cx="431.2" cy="446.2" r="5.20"/>
<circle cx="430.0" cy="456.2" r="5.20"/>
<circle cx="430.0" cy="461.2" r="5.20"/>
<circle cx="437.5" cy="477.0" r="5.20"/>
<circle cx="430.0" cy="423.8" r="5.20"/>
<circle cx="430.0" cy="527.5" r="5.20"/>
<circle cx="429.5" cy="529.2" r="5.20"/>
<circle cx="430.0" cy="532.5" r="5.20"/>
<circle cx="286.5" cy="209.5" r="5.20"/>
<circle cx="286.5" cy="226.2" r="5.20"/>
<circle cx="279.8" cy="241.2" r="5.20"/>
<circle cx="304.5" cy="228.2" r="5.20"/>
<circle cx="304.0" cy="243.2" r="5.20"/>
<circle cx="299.5" cy="256.2" r="5.20"/>
<circle cx="311.5" cy="212.0" r="5.20"/>
<circle cx="307.8" cy="208.2" r="5.20"/>
<circle cx="321.5" cy="217.5" r="5.20"/>
<circle cx="326.5" cy="220.8" r="5.20"/>
<circle cx="326.5" cy="209.5" r="5.20"/>
<circle cx="334.0" cy="209.5" r="5.20"/>
<circle cx="334.0" cy="229.5" r="5.20"/>
<circle cx="334.0" cy="239.5" r="5.20"/>
<circle cx="341.0" cy="242.0" r="5.20"/>
<circle cx="345.2" cy="219.5" r="5.20"/>
<circle cx="349.0" cy="224.5" r="5.20"/>
<circle cx="351.5" cy="232.0" r="5.20"/>
<circle cx="360.2" cy="242.0" r="5.20"/>
<circle cx="356.5" cy="209.5" r="5.20"/>
<circle cx="360.2" cy="217.0" r="5.20"/>
<circle cx="312.8" cy="251.2" r="5.20"/>
<circle cx="320.2" cy="247.0" r="5.20"/>
<circle cx="324.0" cy="244.5" r="5.20"/>
<circle cx="329.0" cy="248.2" r="5.20"/>
<circle cx="311.5" cy="258.2" r="5.20"/>
<circle cx="315.2" cy="265.8" r="5.20"/>
<circle cx="312.8" cy="263.2" r="5.20"/>
<circle cx="335.2" cy="257.0" r="5.20"/>
<circle cx="340.2" cy="259.5" r="5.20"/>
<circle cx="334.0" cy="269.5" r="5.20"/>
<circle cx="334.5" cy="274.5" r="5.20"/>
<circle cx="334.0" cy="280.8" r="5.20"/>
<circle cx="347.8" cy="263.2" r="5.20"/>
<circle cx="354.0" cy="268.2" r="5.20"/>
<circle cx="350.2" cy="258.2" r="5.20"/>
<circle cx="291.0" cy="287.5" r="5.20"/>
<circle cx="312.0" cy="283.2" r="5.20"/>
<circle cx="319.5" cy="286.5" r="5.20"/>
<circle cx="317.0" cy="296.5" r="5.20"/>
<circle cx="266.0" cy="296.5" r="5.20"/>
<circle cx="242.8" cy="317.5" r="5.20"/>
<circle cx="304.5" cy="309.8" r="5.20"/>
<circle cx="315.2" cy="317.0" r="5.20"/>
<circle cx="324.0" cy="312.0" r="5.20"/>
<circle cx="320.2" cy="319.5" r="5.20"/>
<circle cx="327.8" cy="319.5" r="5.20"/>
<circle cx="334.0" cy="310.8" r="5.20"/>
<circle cx="340.2" cy="308.2" r="5.20"/>
<circle cx="317.8" cy="327.5" r="5.20"/>
<circle cx="334.0" cy="329.5" r="5.20"/>
<circle cx="340.2" cy="339.5" r="5.20"/>
<circle cx="266.0" cy="343.5" r="5.20"/>
<circle cx="247.2" cy="350.8" r="5.20"/>
<circle cx="304.5" cy="347.0" r="5.20"/>
<circle cx="304.0" cy="359.5" r="5.20"/>
<circle cx="319.5" cy="356.5" r="5.20"/>
<circle cx="334.5" cy="355.8" r="5.20"/>
<circle cx="340.2" cy="348.2" r="5.20"/>
<circle cx="347.8" cy="353.2" r="5.20"/>
<circle cx="257.8" cy="380.2" r="5.20"/>
<circle cx="327.8" cy="363.2" r="5.20"/>
<circle cx="334.0" cy="369.5" r="5.20"/>
<circle cx="341.0" cy="364.5" r="5.20"/>
<circle cx="348.5" cy="370.0" r="5.20"/>
<circle cx="324.5" cy="375.8" r="5.20"/>
<circle cx="326.5" cy="379.5" r="5.20"/>
<circle cx="334.0" cy="377.0" r="5.20"/>
<circle cx="306.5" cy="380.0" r="5.20"/>
<circle cx="299.5" cy="385.2" r="5.20"/>
<circle cx="286.5" cy="393.2" r="5.20"/>
<circle cx="321.5" cy="395.8" r="5.20"/>
<circle cx="334.0" cy="393.2" r="5.20"/>
<circle cx="307.8" cy="399.0" r="5.20"/>
<circle cx="346.5" cy="379.5" r="5.20"/>
<circle cx="352.8" cy="385.0" r="5.20"/>
<circle cx="334.5" cy="400.8" r="5.20"/>
<circle cx="340.5" cy="413.2" r="5.20"/>
<circle cx="353.2" cy="401.2" r="5.20"/>
<circle cx="361.2" cy="407.5" r="5.20"/>
<circle cx="358.8" cy="400.0" r="5.20"/>
<circle cx="718.5" cy="45.4" r="5.20"/>
<circle cx="168.6" cy="514.8" r="5.20"/>
</g>
<g fill="#00BA38" stroke="#00BA38" fill-opacity="0.70" stroke-opacity="0.70" stroke-width="1.90">
<circle cx="142.7" cy="548.5" r="5.20"/>
<circle cx="142.7" cy="548.5" r="5.20"/>
<circle cx="142.7" cy="548.5" r="5.20"/>
<circle cx="142.7" cy="542.3" r="5.20"/>
<circle cx="142.7" cy="540.2" r="5.20"/>
<circle cx="142.7" cy="538.2" r="5.20"/>
<circle cx="142.7" cy="536.2" r="5.20"/>
<circle cx="142.7" cy="534.2" r="5.20"/>
<circle cx="142.7" cy="532.2" r="5.20"/>
<circle cx="142.7" cy="530.2" r="5.20"/>
<circle cx="142.7" cy="528.2" r="5.20"/>
<circle cx="142.7" cy="526.2" r="5.20"/>
<circle cx="142.7" cy="524.1" r="5.20"/>
<circle cx="142.7" cy="522.1" r="5.20"/>
<circle cx="142.7" cy="520.1" r="5.20"/>
<circle cx="142.7" cy="518.1" r="5.20"/>
<circle cx="142.7" cy="516.1" r="5.20"/>
<circle cx="142.7" cy="514.1" r="5.20"/>
<circle cx="142.7" cy="512.1" r="5.20"/>
<circle cx="142.7" cy="510.1" r="5.20"/>
<circle cx="142.7" cy="508.1" r="5.20"/>
<circle cx="142.7" cy="506.0" r="5.20"/>
<circle cx="142.7" cy="504.0" r="5.20"/>
<circle cx="142.7" cy="502.0" r="5.20"/>
<circle cx="142.7" cy="500.0" r="5.20"/>
<circle cx="142.7" cy="498.0" r="5.20"/>
<circle cx="142.7" cy="496.0" r="5.20"/>
<circle cx="142.7" cy="494.0" r="5.20"/>
<circle cx="142.7" cy="492.0" r="5.20"/>
<circle cx="142.7" cy="489.9" r="5.20"/>
<circle cx="142.7" cy="487.9" r="5.20"/>
<circle cx="142.7" cy="485.9" r="5.20"/>
<circle cx="142.7" cy="483.9" r="5.20"/>
<circle cx="142.7" cy="481.9" r="5.20"/>
<circle cx="142.7" cy="479.9" r="5.20"/>
<circle cx="142.7" cy="477.9" r="5.20"/>
<circle cx="142.7" cy="475.9" r="5.20"/>
<circle cx="142.7" cy="473.8" r="5.20"/>
<circle cx="142.7" cy="471.8" r="5.20"/>
<circle cx="142.7" cy="469.8" r="5.20"/>
<circle cx="142.7" cy="467.8" r="5.20"/>
<circle cx="142.7" cy="465.8" r="5.20"/>
<circle cx="142.7" cy="463.8" r="5.20"/>
<circle cx="142.7" cy="461.8" r="5.20"/>
<circle cx="142.7" cy="459.8" r="5.20"/>
<circle cx="142.7" cy="457.7" r="5.20"/>
<circle cx="142.7" cy="455.7" r="5.20"/>
<circle cx="142.7" cy="453.7" r="5.20"/>
<circle cx="142.7" cy="451.7" r="5.20"/>
<circle cx="142.7" cy="449.7" r="5.20"/>
<circle cx="142.7" cy="447.7" r="5.20"/>
<circle cx="142.7" cy="445.7" r="5.20"/>
<circle cx="142.7" cy="443.7" r="5.20"/>
<circle cx="142.7" cy="441.6" r="5.20"/>
<circle cx="142.7" cy="439.6" r="5.20"/>
<circle cx="142.7" cy="437.6" r="5.20"/>
<circle cx="142.7" cy="435.6" r="5.20"/>
<circle cx="142.7" cy="433.6" r="5.20"/>
<circle cx="142.7" cy="431.6" r="5.20"/>
<circle cx="142.7" cy="429.6" r="5.20"/>
<circle cx="142.7" cy="427.6" r="5.20"/>
<circle cx="142.7" cy="425.5" r="5.20"/>
<circle cx="142.7" cy="423.5" r="5.20"/>
<circle cx="142.7" cy="421.5" r="5.20"/>
<circle cx="142.7" cy="419.5" r="5.20"/>
<circle cx="142.7" cy="417.5" r="5.20"/>
<circle cx="142.7" cy="415.5" r="5.20"/>
<circle cx="142.7" cy="413.5" r="5.20"/>
<circle cx="142.7" cy="411.5" r="5.20"/>
<circle cx="142.7" cy="409.4" r="5.20"/>
<circle cx="142.7" cy="407.4" r="5.20"/>
<circle cx="142.7" cy="405.4" r="5.20"/>
<circle cx="142.7" cy="403.4" r="5.20"/>
<circle cx="142.7" cy="401.4" r="5.20"/>
<circle cx="142.7" cy="399.4" r="5.20"/>
<circle cx="142.7" cy="397.4" r="5.20"/>
<circle cx="142.7" cy="395.4" r="5.20"/>
<circle cx="142.7" cy="393.3" r="5.20"/>
<circle cx="142.7" cy="391.3" r="5.20"/>
<circle cx="142.7" cy="389.3" r="5.20"/>
<circle cx="142.7" cy="380.7" r="5.20"/>
<circle cx="142.7" cy="380.7" r="5.20"/>
<circle cx="142.7" cy="373.1" r="5.20"/>
<circle cx="142.7" cy="347.1" r="5.20"/>
<circle cx="142.7" cy="347.1" r="5.20"/>
<circle cx="142.7" cy="309.1" r="5.20"/>
<circle cx="142.7" cy="296.8" r="5.20"/>
<circle cx="142.7" cy="296.8" r="5.20"/>
<circle cx="142.7" cy="285.6" r="5.20"/>
<circle cx="156.3" cy="548.5" r="5.20"/>
<circle cx="158.6" cy="548.5" r="5.20"/>
<circle cx="160.9" cy="548.5" r="5.20"/>
<circle cx="163.2" cy="548.5" r="5.20"/>
<circle cx="165.5" cy="548.5" r="5.20"/>
<circle cx="167.8" cy="548.5" r="5.20"/>
<circle cx="170.1" cy="548.5" r="5.20"/>
<circle cx="172.4" cy="548.5" r="5.20"/>
<circle cx="174.7" cy="548.5" r="5.20"/>
<circle cx="177.0" cy="548.5" r="5.20"/>
<circle cx="179.3" cy="548.5" r="5.20"/>
<circle cx="181.6" cy="548.5" r="5.20"/>
<circle cx="183.9" cy="548.5" r="5.20"/>
<circle cx="186.2" cy="548.5" r="5.20"/>
<circle cx="188.5" cy="548.5" r="5.20"/>
<circle cx="190.8" cy="548.5" r="5.20"/>
<circle cx="193.1" cy="548.5" r="5.20"/>
<circle cx="195.4" cy="548.5" r="5.20"/>
<circle cx="197.7" cy="548.5" r="5.20"/>
<circle cx="200.0" cy="548.5" r="5.20"/>
<circle cx="202.3" cy="548.5" r="5.20"/>
<circle cx="204.6" cy="548.5" r="5.20"/>
<circle cx="206.9" cy="548.5" r="5.20"/>
<circle cx="209.2" cy="548.5" r="5.20"/>
<circle cx="211.5" cy="548.5" r="5.20"/>
<circle cx="213.8" cy="548.5" r="5.20"/>
<circle cx="216.1" cy="548.5" r="5.20"/>
<circle cx="218.4" cy="548.5" r="5.20"/>
<circle cx="220.7" cy="548.5" r="5.20"/>
<circle cx="226.3" cy="548.5" r="5.20"/>
<circle cx="236.2" cy="548.5" r="5.20"/>
<circle cx="242.5" cy="548.5" r="5.20"/>
<circle cx="263.8" cy="548.5" r="5.20"/>
<circle cx="272.5" cy="548.5" r="5.20"/>
<circle cx="276.2" cy="548.5" r="5.20"/>
<circle cx="283.8" cy="548.5" r="5.20"/>
<circle cx="287.5" cy="548.5" r="5.20"/>
<circle cx="301.2" cy="548.5" r="5.20"/>
<circle cx="385.0" cy="548.5" r="5.20"/>
<circle cx="415.8" cy="548.5" r="5.20"/>
<circle cx="430.0" cy="548.5" r="5.20"/>
<circle cx="467.5" cy="548.5" r="5.20"/>
</g>
<g fill="#F8766D" stroke="#F8766D" fill-opacity="0.70" stroke-opacity="0.70" stroke-width="1.90">
<circle cx="142.7" cy="236.9" r="5.20"/>
<circle cx="142.7" cy="304.1" r="5.20"/>
</g>
<rect x="107.75" y="14.67" width="645.58" height="564.53" fill="none" stroke="#333333" stroke-width="2.845"/>
</g>
<g stroke="#333333" stroke-width="2.845">
<line x1="142.67" x2="142.67" y1="579.20" y2="586.53"/>
<line x1="100.42" x2="107.75" y1="548.55" y2="548.55"/>
<line x1="286.62" x2="286.62" y1="579.20" y2="586.53"/>
<line x1="100.42" x2="107.75" y1="422.77" y2="422.77"/>
<line x1="430.57" x2="430.57" y1="579.20" y2="586.53"/>
<line x1="100.42" x2="107.75" y1="297.00" y2="297.00"/>
<line x1="574.52" x2="574.52" y1="579.20" y2="586.53"/>
<line x1="100.42" x2="107.75" y1="171.22" y2="171.22"/>
<line x1="718.47" x2="718.47" y1="579.20" y2="586.53"/>
<line x1="100.42" x2="107.75" y1="45.45" y2="45.45"/>
</g>
<g font-size="23.47" fill="#4D4D4D">
<text transform="translate(142.67,609.70) scale(1,0.970)" text-anchor="middle">0.00</text>
<text transform="translate(94.90,557.55) scale(1,0.970)" text-anchor="end">0.00</text>
<text transform="translate(286.62,609.70) scale(1,0.970)" text-anchor="middle">0.25</text>
<text transform="translate(94.90,431.77) scale(1,0.970)" text-anchor="end">0.25</text>
<text transform="translate(430.57,609.70) scale(1,0.970)" text-anchor="middle">0.50</text>
<text transform="translate(94.90,306.00) scale(1,0.970)" text-anchor="end">0.50</text>
<text transform="translate(574.52,609.70) scale(1,0.970)" text-anchor="middle">0.75</text>
<text transform="translate(94.90,180.22) scale(1,0.970)" text-anchor="end">0.75</text>
<text transform="translate(718.47,609.70) scale(1,0.970)" text-anchor="middle">1.00</text>
<text transform="translate(94.90,54.45) scale(1,0.970)" text-anchor="end">1.00</text>
</g>
<g font-size="29.33" fill="#000">
<text transform="translate(430.70,642.80) scale(1,1.000)" text-anchor="middle">S2</text>
<text transform="translate(37.0,296.8) rotate(-90) scale(1,1.09)" text-anchor="middle">S3</text>
<text transform="translate(122.10,726.00) scale(1,0.965)" text-anchor="start">labels</text>
</g>
<circle cx="235.9" cy="715.6" r="5.20" fill="#F8766D" stroke="#F8766D" fill-opacity="0.70" stroke-opacity="0.70" stroke-width="1.90"/>
<circle cx="369.6" cy="715.6" r="5.20" fill="#00BA38" stroke="#00BA38" fill-opacity="0.70" stroke-opacity="0.70" stroke-width="1.90"/>
<circle cx="554.6" cy="715.6" r="5.20" fill="#619CFF" stroke="#619CFF" fill-opacity="0.70" stroke-opacity="0.70" stroke-width="1.90"/>
<g font-size="23.47" fill="#000">
<text transform="translate(272.90,723.40) scale(1,0.970)" text-anchor="start">driver</text>
<text transform="translate(406.70,723.40) scale(1,0.970)" text-anchor="start">passenger</text>
<text transform="translate(592.10,723.40) scale(1,0.970)" text-anchor="start">pre-neoplastic</text>
</g>
</svg></body></html>
